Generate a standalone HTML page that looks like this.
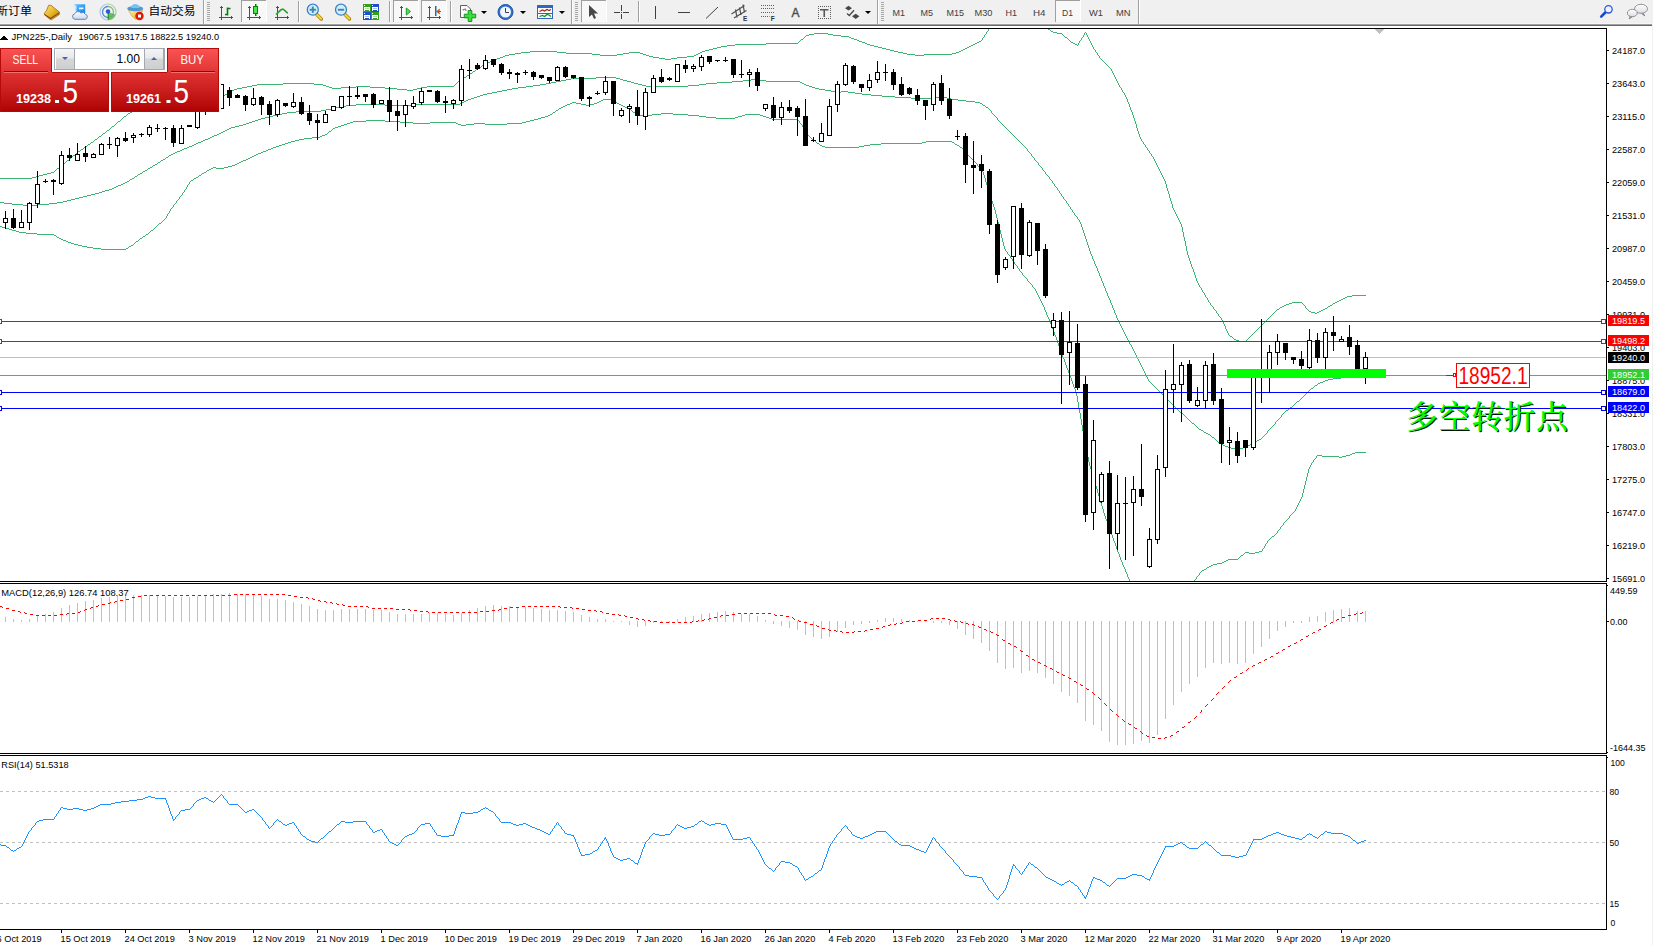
<!DOCTYPE html>
<html><head><meta charset="utf-8"><title>JPN225 Daily</title>
<style>
html,body{margin:0;padding:0;background:#fff;}
body{width:1653px;height:945px;position:relative;overflow:hidden;font-family:"Liberation Sans","Noto Sans CJK SC",sans-serif;}
#tb{position:absolute;left:0;top:0;width:1653px;height:24px;background:#f0f0f0;}
#tb1{position:absolute;left:0;top:24px;width:1653px;height:1px;background:#a0a0a0;}
#tb2{position:absolute;left:0;top:25px;width:1653px;height:1px;background:#696969;}
#redge{position:absolute;left:1652px;top:24px;width:1px;height:921px;background:#f0f0f0;}
#tb0{position:absolute;left:0;top:23px;width:1653px;height:1px;background:#f6f6f6;}
svg#ch{position:absolute;left:0;top:0;}
svg text{font-family:"Liberation Sans","Noto Sans CJK SC",sans-serif;}
#cn{position:absolute;left:1406px;top:397px;font-family:"Liberation Serif","Noto Serif CJK SC",serif;font-weight:500;font-size:32px;line-height:40px;color:#00ff00;text-shadow:1px 1px 0 #001800;white-space:nowrap;letter-spacing:0.5px;}
/* one click trading panel */
#oc{position:absolute;left:0;top:48px;width:220px;height:64px;}
#oc div{position:absolute;box-sizing:border-box;}
.red{background:linear-gradient(#f04848,#b80808);}
</style></head><body>
<div id="tb"></div><div id="tb0"></div><div id="tb1"></div><div id="tb2"></div><div id="redge"></div>
<svg id="ch" width="1653" height="945" viewBox="0 0 1653 945" shape-rendering="crispEdges">
<defs><clipPath id="cm"><rect x="0" y="29" width="1606" height="552"/></clipPath></defs>
<rect x="0" y="28" width="1607" height="1" fill="#000"/>
<rect x="1606" y="28" width="1" height="902" fill="#000"/>
<rect x="0" y="581" width="1607" height="1" fill="#000"/>
<rect x="0" y="583" width="1607" height="1" fill="#000"/>
<rect x="0" y="753" width="1607" height="1" fill="#000"/>
<rect x="0" y="755" width="1607" height="1" fill="#000"/>
<rect x="0" y="929" width="1607" height="1" fill="#000"/>
<rect x="0" y="582" width="1608" height="1" fill="#fff"/>
<rect x="0" y="754" width="1608" height="1" fill="#fff"/>
<path d="M0 178.5h32m0-1h4m0-1h3m0-1h4m0-1h4m0-1h4m0-1h3m0-1h1m0-1h1m0-1h1m0-1h2m0-1h1m0-1h1m0-1h1m0-1h1m0-1h2m0-1h1m0-1h1m0-1h2m0-1h1m0-1h1m0-1h1m0-1h1m0-1h2m0-1h1m0-1h1m0-1h1m0-1h2m0-1h1m0-1h2m0-1h1m0-1h1m0-1h2m0-1h1m0-1h2m0-1h1m0-1h2m0-1h1m0-1h1m0-1h2m0-1h1m0-1h1m0-1h2m0-1h1m0-1h1m0-1h2m0-1h1m0-1h1m0-1h2m0-1h1m0-1h1m0-1h1m0-1h2m0-1h1m0-1h1m0-1h1m0-1h1m0-1h2m0-1h1m0-1h1m0-1h1m0-1h1m0-1h2m0-1h1m0-1h1m0-1h2m0-1h2m0-1h1m0-1h2m0-1h2m0-1h1m0-1h2m0-1h1m0-1h2m0-1h2m0-1h1m0-1h2m0-1h2m0-1h3m0-1h6m0-1h6m0-1h6m0-1h6m0-1h10m0 1h12m0 1h11m0-1h10m0-1h5m0-1h2m0-1h2m0-1h1m0-1h2m0-1h2m0-1h3m0-1h5m0-1h5m0-1h5m0-1h5m0-1h26m0-1h31m0 1h9m0 1h3m0 1h3m0 1h3m0 1h9m0-1h15m0-1h14m0 1h15m0 1h12m0 1h10m0 1h6m0-1h4m0-1h4m0-1h6m0-1h27m0-1h1m0-1h1m0-1h1m0-1h1m0-1h1m0-1h2m0-1h1m0-1h2m0-1h2m0-1h1m0-1h2m0-1h1m0-1h2m0-1h1m0-1h2m0-1h1m0-1h2m0-1h1m0-1h2m0-1h1m0-1h2m0-1h2m0-1h2m0-1h2m0-1h2m0-1h3m0-1h2m0-1h3m0-1h3m0-1h2m0-1h4m0-1h6m0-1h6m0-1h9m0-1h27m0 1h9m0 1h26m0 1h8m0 1h17m0-1h6m0-1h6m0-1h11m0 1h3m0 1h3m0 1h3m0 1h4m0 1h6m0 1h6m0 1h6m0-1h6m0-1h10m0-1h7m0-1h2m0-1h2m0-1h2m0-1h2m0-1h3m0-1h4m0-1h4m0-1h4m0-1h4m0-1h6m0-1h8m0-1h31m0-1h32m0-1h1m0-1h1m0-1h1m0-1h2m0-1h1m0-1h1m0-1h1m0-1h3m0-1h5m0-1h14m0 1h5m0 1h8m0 1h8m0 1h2m0 1h3m0 1h3m0 1h2m0 1h3m0 1h3m0 1h2m0 1h3m0 1h4m0 1h4m0 1h4m0 1h4m0 1h4m0 1h4m0 1h4m0 1h5m0 1h4m0 1h8m0 1h9m0-1h28m0-1h4m0-1h3m0-1h2m0-1h2m0-1h2m0-1h2m0-1h2m0-1h2m0-1h2m0-1h2m0-1h2m0-1h2m0-1h2m0-1h1m.5-2.5v2m.5-2.5h1m.5-2.5v2m.5-2.5h1m.5-2.5v2m.5-2.5h1m.5-2.5v2m59.5-1.5h2m0 1h1m0 1h2m0 1h4m0 1h5m0 1h1m0 1h1m0 1h1m0 1h2m0 1h1m0 1h1m0 1h1m0 1h1m0 1h2m0 1h2m0 1h2m0 1h1m.5-2.5v2m1-4v2m.5-2.5h1m.5-2.5v2m.5-2.5h1m.5-2.5v2m1-4v2m.5-2.5h1m.5 .5v2m1 0v2m1 0v2m1 0v2m1 0v2m1 0v2m1 0v2m1 0v2m.5 .5h1m.5 .5v2m.5 .5h1m.5 .5v2m.5 .5h1m.5 .5v2m.5 .5h1m0 1h1m0 1h1m0 1h1m0 1h1m0 1h1m0 1h1m0 1h1m0 1h1m0 1h1m0 1h1m.5 .5v2m1 0v2m1 0v2m1 0v2m1 0v2m1 0v2m1 0v2m1 0v2m1 0v2m.5 .5h1m.5 .5v2m1 0v2m.5 .5h1m.5 .5v2m1 0v2m1 0v2m1 0v3m1 0v2m1 0v3m1 0v3m1 0v2m1 0v3m1 0v3m1 0v3m1 0v3m1 0v4m1 0v3m1 0v3m1 0v3m1 0v2m1 0v2m.5 .5h1m.5 .5v2m.5 .5h1m.5 .5v2m.5 .5h1m.5 .5v2m.5 .5h1m.5 .5v2m.5 .5h1m.5 .5v2m.5 .5h1m.5 .5v2m1 0v2m1 0v2m1 0v2m1 0v2m1 0v2m1 0v2m1 0v2m1 0v2m1 0v2m1 0v2m1 0v2m1 0v3m1 0v4m1 0v3m1 0v3m1 0v4m1 0v3m1 0v3m1 0v4m1 0v2m1 0v2m1 0v2m1 0v2m1 0v2m1 0v2m1 0v2m1 0v2m1 0v3m1 0v5m1 0v5m1 0v4m1 0v5m1 0v5m1 0v4m1 0v3m1 0v3m1 0v3m1 0v3m1 0v2m1 0v3m1 0v3m1 0v3m1 0v3m1 0v2m1 0v2m1 0v2m.5 .5h1m.5 .5v2m1 0v2m.5 .5h1m.5 .5v2m1 0v2m.5 .5h1m.5 .5v2m1 0v2m.5 .5h1m.5 .5v2m.5 .5h1m0 1h1m.5 .5v2m.5 .5h1m0 1h1m.5 .5v2m.5 .5h1m.5 .5v2m.5 .5h1m0 1h1m.5 .5v2m1 0v2m1 0v2m1 0v2m1 0v3m1 0v2m1 0v2m1 0v2m.5 .5h1m0 1h2m0 1h1m0 1h1m0 1h2m0 1h3m0 1h7m0-1h1m0-1h1m0-1h1m0-1h1m0-1h1m0-1h1m0-1h1m0-1h1m0-1h1m0-1h1m0-1h1m0-1h1m0-1h1m0-1h1m0-1h1m0-1h1m0-1h1m0-1h1m0-1h1m0-1h1m0-1h1m0-1h1m0-1h1m0-1h1m0-1h1m0-1h1m0-1h1m0-1h1m0-1h1m0-1h1m0-1h1m0-1h2m0-1h1m0-1h2m0-1h2m0-1h2m0-1h3m0-1h3m0-1h10m0 1h1m0 1h1m0 1h1m.5 .5v2m.5 .5h1m0 1h1m0 1h1m0 1h2m0 1h4m0 1h2m0-1h2m0-1h2m0-1h2m0-1h2m0-1h2m0-1h1m0-1h2m0-1h2m0-1h1m0-1h2m0-1h2m0-1h2m0-1h2m0-1h2m0-1h2m0-1h2m0-1h5m0-1h14" fill="none" stroke="#3cb371" stroke-width="1"/>
<path d="M0 202.5h4m0 1h8m0 1h11m0 1h14m0-1h12m0-1h8m0-1h6m0-1h4m0-1h4m0-1h4m0-1h4m0-1h4m0-1h4m0-1h4m0-1h4m0-1h4m0-1h3m0-1h3m0-1h4m0-1h3m0-1h2m0-1h2m0-1h2m0-1h3m0-1h2m0-1h2m0-1h2m0-1h2m0-1h1m0-1h2m0-1h2m0-1h1m0-1h2m0-1h1m0-1h2m0-1h2m0-1h1m0-1h2m0-1h2m0-1h1m0-1h2m0-1h2m0-1h1m0-1h2m0-1h2m0-1h1m0-1h2m0-1h1m0-1h2m0-1h2m0-1h1m0-1h2m0-1h1m0-1h2m0-1h2m0-1h2m0-1h2m0-1h3m0-1h2m0-1h2m0-1h3m0-1h2m0-1h3m0-1h2m0-1h2m0-1h2m0-1h3m0-1h2m0-1h2m0-1h3m0-1h2m0-1h2m0-1h2m0-1h3m0-1h2m0-1h2m0-1h2m0-1h2m0-1h2m0-1h2m0-1h2m0-1h4m0-1h4m0-1h4m0-1h3m0-1h3m0-1h3m0-1h3m0-1h3m0-1h3m0-1h4m0-1h4m0-1h4m0-1h4m0-1h5m0-1h5m0-1h9m0-1h25m0-1h5m0-1h5m0-1h5m0-1h5m0-1h5m0-1h10m0-1h29m0 1h30m0-1h45m0-1h2m0-1h2m0-1h2m0-1h2m0-1h3m0-1h3m0-1h3m0-1h3m0-1h3m0-1h4m0-1h5m0-1h5m0-1h5m0-1h5m0-1h5m0-1h6m0-1h8m0-1h7m0-1h7m0-1h6m0-1h5m0-1h5m0-1h5m0-1h5m0-1h5m0-1h25m0-1h20m0 1h4m0 1h3m0 1h4m0 1h4m0 1h3m0 1h4m0 1h4m0 1h4m0 1h42m0-1h11m0-1h7m0-1h11m0-1h15m0-1h11m0-1h8m0-1h7m0 1h8m0 1h34m0 1h2m0 1h2m0 1h2m0 1h3m0 1h3m0 1h3m0 1h4m0 1h6m0 1h6m0 1h4m0 1h6m0-1h7m0 1h7m0 1h7m0 1h9m0 1h11m0 1h13m0 1h16m0 1h21m0-1h15m0 1h4m0 1h7m0 1h8m0 1h9m0 1h5m0 1h2m0 1h1m0 1h2m0 1h1m0 1h2m0 1h1m0 1h1m0 1h1m.5 .5v2m.5 .5h1m0 1h1m0 1h1m0 1h1m0 1h1m.5 .5v2m.5 .5h1m0 1h1m0 1h1m0 1h1m0 1h1m0 1h1m0 1h1m0 1h1m0 1h1m0 1h1m0 1h1m0 1h1m0 1h1m0 1h1m0 1h1m0 1h1m0 1h1m0 1h1m0 1h1m0 1h1m0 1h1m0 1h1m0 1h1m0 1h1m0 1h1m0 1h1m0 1h1m0 1h1m0 1h1m.5 .5v2m.5 .5h1m0 1h1m0 1h1m.5 .5v2m.5 .5h1m0 1h1m.5 .5v2m.5 .5h1m0 1h1m0 1h1m.5 .5v2m.5 .5h1m0 1h1m0 1h1m.5 .5v2m.5 .5h1m0 1h1m.5 .5v2m.5 .5h1m0 1h1m0 1h1m.5 .5v2m.5 .5h1m0 1h1m.5 .5v2m.5 .5h1m.5 .5v2m.5 .5h1m0 1h1m.5 .5v2m.5 .5h1m.5 .5v2m.5 .5h1m.5 .5v2m.5 .5h1m.5 .5v2m.5 .5h1m0 1h1m.5 .5v2m.5 .5h1m.5 .5v2m.5 .5h1m.5 .5v2m.5 .5h1m.5 .5v2m.5 .5h1m.5 .5v2m.5 .5h1m0 1h1m.5 .5v2m.5 .5h1m.5 .5v2m1 0v2m1 0v3m1 0v3m1 0v3m1 0v3m1 0v3m1 0v3m1 0v3m1 0v3m1 0v3m1 0v3m1 0v2m1 0v3m1 0v2m1 0v3m1 0v2m1 0v2m1 0v3m1 0v2m1 0v3m1 0v2m1 0v3m1 0v2m1 0v3m1 0v2m1 0v3m1 0v2m1 0v3m1 0v2m1 0v2m1 0v3m1 0v2m1 0v3m1 0v2m1 0v3m1 0v2m1 0v3m1 0v2m1 0v2m1 0v2m1 0v2m1 0v2m1 0v2m1 0v2m1 0v2m1 0v2m1 0v2m1 0v2m1 0v2m1 0v2m.5 .5h1m.5 .5v2m1 0v2m1 0v2m1 0v2m1 0v2m1 0v2m1 0v2m1 0v2m1 0v2m1 0v2m1 0v2m1 0v2m1 0v2m1 0v2m1 0v2m1 0v2m1 0v2m1 0v2m.5 .5h1m0 1h1m0 1h1m0 1h1m0 1h1m0 1h1m0 1h1m0 1h1m0 1h1m0 1h1m0 1h1m0 1h1m0 1h1m0 1h1m0 1h1m0 1h1m0 1h1m0 1h1m0 1h1m0 1h1m0 1h1m0 1h1m0 1h1m0 1h1m0 1h1m0 1h1m0 1h1m0 1h1m0 1h1m0 1h1m0 1h1m0 1h1m0 1h2m0 1h1m0 1h1m0 1h1m0 1h1m0 1h1m0 1h1m0 1h1m0 1h1m0 1h1m0 1h2m0 1h1m0 1h1m0 1h1m0 1h1m0 1h1m0 1h2m0 1h2m0 1h1m0 1h2m0 1h2m0 1h2m0 1h1m0 1h1m0 1h2m0 1h1m0 1h1m0 1h1m0 1h1m0 1h2m0 1h1m0 1h2m0 1h2m0 1h3m0 1h3m0 1h4m0 1h4m0-1h4m0-1h3m0-1h2m0-1h2m0-1h2m0-1h1m0-1h2m0-1h2m0-1h2m0-1h2m0-1h1m0-1h1m0-1h1m0-1h1m0-1h1m0-1h1m.5-2.5v2m.5-2.5h1m0-1h1m0-1h1m0-1h1m0-1h1m0-1h1m0-1h1m.5-2.5v2m.5-2.5h1m0-1h1m0-1h1m0-1h1m0-1h1m.5-2.5v2m.5-2.5h1m0-1h1m0-1h1m0-1h1m0-1h2m0-1h1m0-1h1m0-1h2m0-1h1m0-1h1m0-1h1m0-1h1m0-1h1m0-1h2m0-1h1m0-1h1m0-1h1m0-1h1m0-1h1m0-1h1m0-1h1m0-1h1m0-1h1m0-1h1m0-1h1m0-1h1m0-1h2m0-1h1m0-1h1m0-1h2m0-1h1m0-1h2m0-1h3m0-1h2m0-1h3m0-1h5m0-1h8m0-1h7m0-1h7m0-1h7m0-1h4" fill="none" stroke="#3cb371" stroke-width="1"/>
<path d="M0 226.5h2m0 1h4m0 1h3m0 1h3m0 1h4m0 1h3m0 1h7m0 1h11m0 1h17m0 1h2m0 1h1m0 1h2m0 1h2m0 1h2m0 1h3m0 1h2m0 1h3m0 1h3m0 1h4m0 1h4m0 1h5m0 1h6m0 1h8m0 1h25m0-1h2m0-1h1m0-1h2m0-1h2m0-1h1m0-1h1m0-1h1m0-1h2m0-1h1m0-1h1m0-1h2m0-1h1m0-1h2m0-1h1m0-1h2m0-1h1m0-1h1m0-1h1m0-1h2m0-1h1m0-1h1m0-1h1m0-1h1m0-1h1m0-1h1m0-1h2m0-1h1m0-1h1m0-1h1m0-1h1m0-1h1m.5-2.5v2m1-4v2m.5-2.5h1m.5-2.5v2m1-4v2m.5-2.5h1m0-1h1m.5-2.5v2m.5-2.5h1m0-1h1m.5-2.5v2m.5-2.5h1m0-1h1m.5-2.5v2m.5-2.5h1m0-1h1m.5-2.5v2m.5-2.5h1m.5-2.5v2m.5-2.5h1m.5-2.5v2m1-4v2m.5-2.5h1m.5-2.5v2m.5-2.5h1m0-1h2m0-1h1m0-1h2m0-1h2m0-1h1m0-1h2m0-1h1m0-1h2m0-1h2m0-1h1m0-1h2m0-1h2m0-1h2m0-1h3m0 1h8m0-1h4m0-1h4m0-1h3m0-1h2m0-1h2m0-1h2m0-1h2m0-1h3m0-1h2m0-1h2m0-1h2m0-1h2m0-1h2m0-1h2m0-1h3m0-1h2m0-1h3m0-1h2m0-1h3m0-1h2m0-1h3m0-1h3m0-1h3m0-1h3m0-1h3m0-1h3m0-1h4m0-1h4m0-1h5m0-1h8m0-1h8m0-1h2m0-1h3m0-1h2m0-1h1m0-1h1m0-1h2m0-1h1m0-1h1m0-1h2m0-1h3m0-1h3m0-1h3m0-1h3m0-1h3m0-1h3m0-1h13m0-1h19m0 1h15m0 1h13m0 1h17m0-1h26m0 1h2m0 1h3m0 1h5m0-1h8m0-1h11m0 1h22m0-1h15m0-1h4m0-1h4m0-1h4m0-1h4m0-1h3m0-1h4m0-1h3m0-1h2m0-1h2m0-1h1m0-1h2m0-1h1m0-1h2m0-1h1m0-1h2m0-1h2m0-1h2m0-1h2m0-1h3m0-1h2m0-1h4m0 1h5m0 1h5m0 1h4m0-1h4m0-1h3m0-1h2m0-1h2m0-1h2m0-1h8m0 1h2m0 1h2m0 1h2m0 1h2m0 1h2m0 1h2m0 1h2m0 1h3m0 1h2m0 1h1m0 1h1m0 1h1m0 1h2m0 1h1m0 1h1m0 1h15m0-1h9m0-1h12m0 1h15m0 1h11m0 1h7m0 1h10m0 1h19m0-1h3m0-1h4m0-1h3m0-1h15m0 1h3m0 1h3m0 1h3m0 1h3m0 1h26m0 1h1m.5 .5v2m.5 .5h1m0 1h1m.5 .5v2m.5 .5h1m.5 .5v2m.5 .5h1m.5 .5v2m1 0v2m.5 .5h1m0 1h1m0 1h1m0 1h1m0 1h2m0 1h1m0 1h1m0 1h1m0 1h2m0 1h1m0 1h2m0 1h3m0 1h34m0-1h5m0-1h6m0-1h11m0-1h41m0-1h4m0-1h26m0 1h2m0 1h1m0 1h2m0 1h2m0 1h1m0 1h2m0 1h1m0 1h1m0 1h1m0 1h1m0 1h1m.5 .5v2m.5 .5h1m0 1h1m0 1h1m0 1h1m0 1h1m0 1h1m0 1h1m0 1h1m0 1h1m.5 .5v2m.5 .5h1m0 1h1m0 1h1m0 1h1m.5 .5v2m1 0v3m1 0v3m1 0v4m1 0v3m1 0v3m1 0v3m1 0v3m1 0v3m1 0v4m1 0v3m1 0v3m1 0v3m1 0v4m1 0v4m1 0v4m1 0v4m1 0v4m1 0v4m1 0v4m1 0v4m1 0v4m1 0v3m1 0v2m.5 .5h1m.5 .5v2m.5 .5h1m0 1h1m.5 .5v2m.5 .5h1m.5 .5v2m.5 .5h1m.5 .5v2m.5 .5h1m0 1h1m.5 .5v2m.5 .5h1m.5 .5v2m.5 .5h1m0 1h1m.5 .5v2m.5 .5h1m0 1h1m0 1h1m0 1h1m.5 .5v2m.5 .5h1m0 1h1m0 1h1m0 1h1m.5 .5v2m.5 .5h1m0 1h1m.5 .5v2m1 0v2m1 0v2m1 0v2m1 0v2m1 0v2m1 0v2m1 0v2m1 0v2m1 0v3m1 0v2m1 0v3m1 0v2m1 0v2m1 0v3m1 0v2m1 0v3m1 0v2m1 0v3m1 0v3m1 0v2m1 0v3m1 0v3m1 0v3m1 0v2m1 0v3m1 0v3m1 0v3m1 0v2m1 0v3m1 0v3m1 0v3m1 0v2m1 0v3m1 0v3m1 0v2m1 0v3m1 0v3m1 0v3m1 0v2m1 0v3m1 0v4m1 0v6m1 0v6m1 0v5m1 0v6m1 0v6m1 0v6m1 0v5m1 0v5m1 0v5m1 0v6m1 0v5m1 0v5m1 0v4m1 0v3m1 0v4m1 0v3m1 0v3m1 0v4m1 0v3m1 0v3m1 0v4m1 0v3m1 0v3m1 0v4m1 0v3m1 0v3m1 0v4m1 0v3m1 0v3m1 0v2m1 0v3m1 0v3m1 0v3m1 0v2m1 0v3m1 0v3m1 0v3m1 0v2m1 0v3m1 0v3m1 0v3m1 0v2m1 0v3m1 0v3m1 0v2m1 0v3m1 0v2m1 0v2m1 0v3m1 0v2m1 0v3m1 0v2m1 0v2m64.5-.5h1m0-1h1m.5-2.5v2m.5-2.5h1m0-1h1m.5-2.5v2m.5-2.5h1m0-1h1m0-1h2m0-1h2m0-1h1m0-1h2m0-1h2m0-1h2m0-1h4m0-1h5m0-1h2m0-1h2m0-1h2m0-1h10m0-1h1m0-1h1m0-1h1m0-1h2m0-1h1m0-1h1m0-1h4m0 1h6m0-1h4m0-1h3m.5-2.5v2m.5-2.5h1m.5-2.5v2m1-4v2m.5-2.5h1m.5-2.5v2m.5-2.5h1m0-1h1m0-1h1m0-1h1m0-1h2m0-1h1m0-1h1m0-1h1m.5-2.5v2m.5-2.5h1m0-1h1m.5-2.5v2m.5-2.5h1m0-1h1m.5-2.5v2m.5-2.5h1m0-1h1m0-1h1m0-1h1m0-1h1m.5-2.5v2m.5-2.5h1m0-1h1m0-1h1m0-1h1m0-1h1m.5-2.5v2m1-4v2m1-4v2m1-4v2m1-4v2m1-4v2m1-4v2m1-6v4m1-8v4m1-8v4m1-8v4m1-8v4m1-8v4m1-8v4m1-6v2m1-4v2m1-4v2m.5-2.5h1m.5-2.5v2m.5-2.5h1m0-1h1m.5-2.5v2m.5-2.5h5m0 1h17m0 1h3m0-1h4m0-1h4m0-1h2m0-1h3m0-1h11" fill="none" stroke="#3cb371" stroke-width="1"/>
<rect x="0" y="357" width="1606" height="1" fill="#c0c0c0"/>
<rect x="0" y="321" width="1606" height="1" fill="#ff0000"/>
<rect x="0" y="341" width="1606" height="1" fill="#ff0000"/>
<rect x="0" y="375" width="1606" height="1" fill="#32cd32"/>
<rect x="0" y="392" width="1606" height="1" fill="#0000ff"/>
<rect x="0" y="408" width="1606" height="1" fill="#0000ff"/>
<rect x="5" y="211" width="1" height="18" fill="#000"/>
<rect x="3" y="218" width="5" height="5" fill="#000"/>
<rect x="4" y="219" width="3" height="3" fill="#fff"/>
<rect x="13" y="209" width="1" height="20" fill="#000"/>
<rect x="11" y="218" width="5" height="10" fill="#000"/>
<rect x="21" y="210" width="1" height="18" fill="#000"/>
<rect x="19" y="222" width="5" height="6" fill="#000"/>
<rect x="20" y="223" width="3" height="4" fill="#fff"/>
<rect x="29" y="202" width="1" height="28" fill="#000"/>
<rect x="27" y="203" width="5" height="20" fill="#000"/>
<rect x="28" y="204" width="3" height="18" fill="#fff"/>
<rect x="37" y="171" width="1" height="37" fill="#000"/>
<rect x="35" y="184" width="5" height="20" fill="#000"/>
<rect x="36" y="185" width="3" height="18" fill="#fff"/>
<rect x="45" y="179" width="1" height="4" fill="#000"/>
<rect x="43" y="181" width="5" height="1" fill="#000"/>
<rect x="53" y="179" width="1" height="16" fill="#000"/>
<rect x="51" y="180" width="5" height="2" fill="#000"/>
<rect x="61" y="151" width="1" height="34" fill="#000"/>
<rect x="59" y="155" width="5" height="29" fill="#000"/>
<rect x="60" y="156" width="3" height="27" fill="#fff"/>
<rect x="69" y="148" width="1" height="13" fill="#000"/>
<rect x="67" y="155" width="5" height="3" fill="#000"/>
<rect x="77" y="143" width="1" height="18" fill="#000"/>
<rect x="75" y="154" width="5" height="7" fill="#000"/>
<rect x="76" y="155" width="3" height="5" fill="#fff"/>
<rect x="85" y="146" width="1" height="16" fill="#000"/>
<rect x="83" y="153" width="5" height="4" fill="#000"/>
<rect x="93" y="153" width="1" height="5" fill="#000"/>
<rect x="91" y="154" width="5" height="4" fill="#000"/>
<rect x="92" y="155" width="3" height="2" fill="#fff"/>
<rect x="101" y="143" width="1" height="12" fill="#000"/>
<rect x="99" y="144" width="5" height="11" fill="#000"/>
<rect x="100" y="145" width="3" height="9" fill="#fff"/>
<rect x="109" y="137" width="1" height="12" fill="#000"/>
<rect x="107" y="144" width="5" height="1" fill="#000"/>
<rect x="117" y="137" width="1" height="20" fill="#000"/>
<rect x="115" y="138" width="5" height="8" fill="#000"/>
<rect x="116" y="139" width="3" height="6" fill="#fff"/>
<rect x="125" y="132" width="1" height="10" fill="#000"/>
<rect x="123" y="138" width="5" height="3" fill="#000"/>
<rect x="133" y="133" width="1" height="10" fill="#000"/>
<rect x="131" y="135" width="5" height="3" fill="#000"/>
<rect x="132" y="136" width="3" height="1" fill="#fff"/>
<rect x="141" y="133" width="1" height="4" fill="#000"/>
<rect x="139" y="134" width="5" height="1" fill="#000"/>
<rect x="149" y="125" width="1" height="12" fill="#000"/>
<rect x="147" y="127" width="5" height="8" fill="#000"/>
<rect x="148" y="128" width="3" height="6" fill="#fff"/>
<rect x="157" y="124" width="1" height="8" fill="#000"/>
<rect x="155" y="128" width="5" height="1" fill="#000"/>
<rect x="165" y="127" width="1" height="13" fill="#000"/>
<rect x="163" y="128" width="5" height="1" fill="#000"/>
<rect x="173" y="125" width="1" height="22" fill="#000"/>
<rect x="171" y="128" width="5" height="15" fill="#000"/>
<rect x="181" y="125" width="1" height="19" fill="#000"/>
<rect x="179" y="128" width="5" height="16" fill="#000"/>
<rect x="180" y="129" width="3" height="14" fill="#fff"/>
<rect x="189" y="125" width="1" height="2" fill="#000"/>
<rect x="187" y="125" width="5" height="2" fill="#000"/>
<rect x="197" y="100" width="1" height="29" fill="#000"/>
<rect x="195" y="102" width="5" height="26" fill="#000"/>
<rect x="196" y="103" width="3" height="24" fill="#fff"/>
<rect x="205" y="95" width="1" height="20" fill="#000"/>
<rect x="203" y="98" width="5" height="7" fill="#000"/>
<rect x="213" y="92" width="1" height="17" fill="#000"/>
<rect x="211" y="96" width="5" height="9" fill="#000"/>
<rect x="212" y="97" width="3" height="7" fill="#fff"/>
<rect x="221" y="84" width="1" height="25" fill="#000"/>
<rect x="219" y="84" width="5" height="25" fill="#000"/>
<rect x="220" y="85" width="3" height="23" fill="#fff"/>
<rect x="229" y="87" width="1" height="19" fill="#000"/>
<rect x="227" y="90" width="5" height="8" fill="#000"/>
<rect x="237" y="94" width="1" height="4" fill="#000"/>
<rect x="235" y="95" width="5" height="3" fill="#000"/>
<rect x="245" y="95" width="1" height="16" fill="#000"/>
<rect x="243" y="96" width="5" height="9" fill="#000"/>
<rect x="253" y="88" width="1" height="18" fill="#000"/>
<rect x="251" y="98" width="5" height="7" fill="#000"/>
<rect x="252" y="99" width="3" height="5" fill="#fff"/>
<rect x="261" y="96" width="1" height="19" fill="#000"/>
<rect x="259" y="97" width="5" height="8" fill="#000"/>
<rect x="269" y="101" width="1" height="24" fill="#000"/>
<rect x="267" y="104" width="5" height="11" fill="#000"/>
<rect x="277" y="99" width="1" height="18" fill="#000"/>
<rect x="275" y="100" width="5" height="15" fill="#000"/>
<rect x="276" y="101" width="3" height="13" fill="#fff"/>
<rect x="285" y="103" width="1" height="4" fill="#000"/>
<rect x="283" y="103" width="5" height="3" fill="#000"/>
<rect x="293" y="93" width="1" height="15" fill="#000"/>
<rect x="291" y="102" width="5" height="5" fill="#000"/>
<rect x="292" y="103" width="3" height="3" fill="#fff"/>
<rect x="301" y="97" width="1" height="18" fill="#000"/>
<rect x="299" y="102" width="5" height="12" fill="#000"/>
<rect x="309" y="105" width="1" height="20" fill="#000"/>
<rect x="307" y="113" width="5" height="8" fill="#000"/>
<rect x="317" y="114" width="1" height="26" fill="#000"/>
<rect x="315" y="120" width="5" height="3" fill="#000"/>
<rect x="325" y="111" width="1" height="12" fill="#000"/>
<rect x="323" y="114" width="5" height="9" fill="#000"/>
<rect x="324" y="115" width="3" height="7" fill="#fff"/>
<rect x="333" y="106" width="1" height="5" fill="#000"/>
<rect x="331" y="106" width="5" height="5" fill="#000"/>
<rect x="332" y="107" width="3" height="3" fill="#fff"/>
<rect x="341" y="96" width="1" height="13" fill="#000"/>
<rect x="339" y="96" width="5" height="12" fill="#000"/>
<rect x="340" y="97" width="3" height="10" fill="#fff"/>
<rect x="349" y="86" width="1" height="20" fill="#000"/>
<rect x="347" y="96" width="5" height="1" fill="#000"/>
<rect x="357" y="87" width="1" height="12" fill="#000"/>
<rect x="355" y="95" width="5" height="2" fill="#000"/>
<rect x="365" y="94" width="1" height="8" fill="#000"/>
<rect x="363" y="94" width="5" height="3" fill="#000"/>
<rect x="373" y="93" width="1" height="15" fill="#000"/>
<rect x="371" y="94" width="5" height="11" fill="#000"/>
<rect x="381" y="100" width="1" height="4" fill="#000"/>
<rect x="379" y="100" width="5" height="4" fill="#000"/>
<rect x="380" y="101" width="3" height="2" fill="#fff"/>
<rect x="389" y="87" width="1" height="35" fill="#000"/>
<rect x="387" y="100" width="5" height="12" fill="#000"/>
<rect x="397" y="100" width="1" height="31" fill="#000"/>
<rect x="395" y="111" width="5" height="5" fill="#000"/>
<rect x="405" y="100" width="1" height="27" fill="#000"/>
<rect x="403" y="105" width="5" height="10" fill="#000"/>
<rect x="404" y="106" width="3" height="8" fill="#fff"/>
<rect x="413" y="96" width="1" height="13" fill="#000"/>
<rect x="411" y="103" width="5" height="4" fill="#000"/>
<rect x="412" y="104" width="3" height="2" fill="#fff"/>
<rect x="421" y="88" width="1" height="17" fill="#000"/>
<rect x="419" y="91" width="5" height="12" fill="#000"/>
<rect x="420" y="92" width="3" height="10" fill="#fff"/>
<rect x="429" y="90" width="1" height="2" fill="#000"/>
<rect x="427" y="90" width="5" height="2" fill="#000"/>
<rect x="437" y="90" width="1" height="13" fill="#000"/>
<rect x="435" y="91" width="5" height="11" fill="#000"/>
<rect x="445" y="96" width="1" height="17" fill="#000"/>
<rect x="443" y="101" width="5" height="2" fill="#000"/>
<rect x="453" y="99" width="1" height="10" fill="#000"/>
<rect x="451" y="100" width="5" height="4" fill="#000"/>
<rect x="452" y="101" width="3" height="2" fill="#fff"/>
<rect x="461" y="65" width="1" height="41" fill="#000"/>
<rect x="459" y="69" width="5" height="32" fill="#000"/>
<rect x="460" y="70" width="3" height="30" fill="#fff"/>
<rect x="469" y="59" width="1" height="20" fill="#000"/>
<rect x="467" y="70" width="5" height="1" fill="#000"/>
<rect x="477" y="63" width="1" height="7" fill="#000"/>
<rect x="475" y="65" width="5" height="4" fill="#000"/>
<rect x="485" y="55" width="1" height="15" fill="#000"/>
<rect x="483" y="60" width="5" height="9" fill="#000"/>
<rect x="484" y="61" width="3" height="7" fill="#fff"/>
<rect x="493" y="59" width="1" height="8" fill="#000"/>
<rect x="491" y="59" width="5" height="6" fill="#000"/>
<rect x="501" y="63" width="1" height="12" fill="#000"/>
<rect x="499" y="64" width="5" height="9" fill="#000"/>
<rect x="509" y="69" width="1" height="10" fill="#000"/>
<rect x="507" y="72" width="5" height="2" fill="#000"/>
<rect x="517" y="72" width="1" height="11" fill="#000"/>
<rect x="515" y="73" width="5" height="2" fill="#000"/>
<rect x="525" y="70" width="1" height="5" fill="#000"/>
<rect x="523" y="72" width="5" height="1" fill="#000"/>
<rect x="533" y="71" width="1" height="9" fill="#000"/>
<rect x="531" y="72" width="5" height="5" fill="#000"/>
<rect x="541" y="75" width="1" height="4" fill="#000"/>
<rect x="539" y="75" width="5" height="3" fill="#000"/>
<rect x="549" y="77" width="1" height="6" fill="#000"/>
<rect x="547" y="77" width="5" height="4" fill="#000"/>
<rect x="557" y="66" width="1" height="15" fill="#000"/>
<rect x="555" y="67" width="5" height="14" fill="#000"/>
<rect x="556" y="68" width="3" height="12" fill="#fff"/>
<rect x="565" y="66" width="1" height="12" fill="#000"/>
<rect x="563" y="67" width="5" height="10" fill="#000"/>
<rect x="573" y="75" width="1" height="4" fill="#000"/>
<rect x="571" y="75" width="5" height="3" fill="#000"/>
<rect x="581" y="77" width="1" height="24" fill="#000"/>
<rect x="579" y="77" width="5" height="22" fill="#000"/>
<rect x="589" y="96" width="1" height="11" fill="#000"/>
<rect x="587" y="97" width="5" height="2" fill="#000"/>
<rect x="597" y="91" width="1" height="4" fill="#000"/>
<rect x="595" y="93" width="5" height="1" fill="#000"/>
<rect x="605" y="76" width="1" height="19" fill="#000"/>
<rect x="603" y="81" width="5" height="12" fill="#000"/>
<rect x="604" y="82" width="3" height="10" fill="#fff"/>
<rect x="613" y="81" width="1" height="35" fill="#000"/>
<rect x="611" y="81" width="5" height="23" fill="#000"/>
<rect x="621" y="108" width="1" height="9" fill="#000"/>
<rect x="619" y="110" width="5" height="6" fill="#000"/>
<rect x="620" y="111" width="3" height="4" fill="#fff"/>
<rect x="629" y="104" width="1" height="19" fill="#000"/>
<rect x="627" y="106" width="5" height="3" fill="#000"/>
<rect x="628" y="107" width="3" height="1" fill="#fff"/>
<rect x="637" y="90" width="1" height="35" fill="#000"/>
<rect x="635" y="107" width="5" height="9" fill="#000"/>
<rect x="645" y="88" width="1" height="42" fill="#000"/>
<rect x="643" y="92" width="5" height="25" fill="#000"/>
<rect x="644" y="93" width="3" height="23" fill="#fff"/>
<rect x="653" y="75" width="1" height="18" fill="#000"/>
<rect x="651" y="78" width="5" height="15" fill="#000"/>
<rect x="652" y="79" width="3" height="13" fill="#fff"/>
<rect x="661" y="69" width="1" height="14" fill="#000"/>
<rect x="659" y="77" width="5" height="5" fill="#000"/>
<rect x="669" y="77" width="1" height="4" fill="#000"/>
<rect x="667" y="78" width="5" height="2" fill="#000"/>
<rect x="677" y="64" width="1" height="18" fill="#000"/>
<rect x="675" y="64" width="5" height="18" fill="#000"/>
<rect x="676" y="65" width="3" height="16" fill="#fff"/>
<rect x="685" y="60" width="1" height="13" fill="#000"/>
<rect x="683" y="65" width="5" height="4" fill="#000"/>
<rect x="693" y="64" width="1" height="8" fill="#000"/>
<rect x="691" y="66" width="5" height="3" fill="#000"/>
<rect x="692" y="67" width="3" height="1" fill="#fff"/>
<rect x="701" y="55" width="1" height="16" fill="#000"/>
<rect x="699" y="57" width="5" height="10" fill="#000"/>
<rect x="700" y="58" width="3" height="8" fill="#fff"/>
<rect x="709" y="56" width="1" height="8" fill="#000"/>
<rect x="707" y="56" width="5" height="6" fill="#000"/>
<rect x="717" y="60" width="1" height="2" fill="#000"/>
<rect x="715" y="60" width="5" height="1" fill="#000"/>
<rect x="725" y="57" width="1" height="5" fill="#000"/>
<rect x="723" y="60" width="5" height="1" fill="#000"/>
<rect x="733" y="59" width="1" height="19" fill="#000"/>
<rect x="731" y="59" width="5" height="16" fill="#000"/>
<rect x="741" y="60" width="1" height="18" fill="#000"/>
<rect x="739" y="74" width="5" height="1" fill="#000"/>
<rect x="749" y="69" width="1" height="18" fill="#000"/>
<rect x="747" y="72" width="5" height="3" fill="#000"/>
<rect x="748" y="73" width="3" height="1" fill="#fff"/>
<rect x="757" y="68" width="1" height="23" fill="#000"/>
<rect x="755" y="72" width="5" height="14" fill="#000"/>
<rect x="765" y="104" width="1" height="7" fill="#000"/>
<rect x="763" y="104" width="5" height="5" fill="#000"/>
<rect x="764" y="105" width="3" height="3" fill="#fff"/>
<rect x="773" y="97" width="1" height="24" fill="#000"/>
<rect x="771" y="105" width="5" height="13" fill="#000"/>
<rect x="781" y="102" width="1" height="23" fill="#000"/>
<rect x="779" y="107" width="5" height="11" fill="#000"/>
<rect x="780" y="108" width="3" height="9" fill="#fff"/>
<rect x="789" y="100" width="1" height="13" fill="#000"/>
<rect x="787" y="107" width="5" height="4" fill="#000"/>
<rect x="797" y="106" width="1" height="30" fill="#000"/>
<rect x="795" y="108" width="5" height="9" fill="#000"/>
<rect x="805" y="99" width="1" height="47" fill="#000"/>
<rect x="803" y="116" width="5" height="30" fill="#000"/>
<rect x="813" y="137" width="1" height="5" fill="#000"/>
<rect x="811" y="140" width="5" height="1" fill="#000"/>
<rect x="821" y="123" width="1" height="19" fill="#000"/>
<rect x="819" y="133" width="5" height="9" fill="#000"/>
<rect x="820" y="134" width="3" height="7" fill="#fff"/>
<rect x="829" y="99" width="1" height="37" fill="#000"/>
<rect x="827" y="106" width="5" height="30" fill="#000"/>
<rect x="828" y="107" width="3" height="28" fill="#fff"/>
<rect x="837" y="81" width="1" height="31" fill="#000"/>
<rect x="835" y="84" width="5" height="21" fill="#000"/>
<rect x="836" y="85" width="3" height="19" fill="#fff"/>
<rect x="845" y="63" width="1" height="23" fill="#000"/>
<rect x="843" y="65" width="5" height="20" fill="#000"/>
<rect x="844" y="66" width="3" height="18" fill="#fff"/>
<rect x="853" y="65" width="1" height="19" fill="#000"/>
<rect x="851" y="66" width="5" height="16" fill="#000"/>
<rect x="861" y="84" width="1" height="8" fill="#000"/>
<rect x="859" y="84" width="5" height="4" fill="#000"/>
<rect x="869" y="74" width="1" height="17" fill="#000"/>
<rect x="867" y="80" width="5" height="8" fill="#000"/>
<rect x="868" y="81" width="3" height="6" fill="#fff"/>
<rect x="877" y="61" width="1" height="22" fill="#000"/>
<rect x="875" y="72" width="5" height="8" fill="#000"/>
<rect x="876" y="73" width="3" height="6" fill="#fff"/>
<rect x="885" y="64" width="1" height="17" fill="#000"/>
<rect x="883" y="72" width="5" height="1" fill="#000"/>
<rect x="893" y="69" width="1" height="21" fill="#000"/>
<rect x="891" y="72" width="5" height="13" fill="#000"/>
<rect x="901" y="77" width="1" height="19" fill="#000"/>
<rect x="899" y="84" width="5" height="11" fill="#000"/>
<rect x="909" y="87" width="1" height="8" fill="#000"/>
<rect x="907" y="88" width="5" height="6" fill="#000"/>
<rect x="917" y="89" width="1" height="16" fill="#000"/>
<rect x="915" y="95" width="5" height="6" fill="#000"/>
<rect x="925" y="100" width="1" height="20" fill="#000"/>
<rect x="923" y="100" width="5" height="6" fill="#000"/>
<rect x="933" y="82" width="1" height="29" fill="#000"/>
<rect x="931" y="84" width="5" height="21" fill="#000"/>
<rect x="932" y="85" width="3" height="19" fill="#fff"/>
<rect x="941" y="75" width="1" height="30" fill="#000"/>
<rect x="939" y="83" width="5" height="18" fill="#000"/>
<rect x="949" y="88" width="1" height="31" fill="#000"/>
<rect x="947" y="99" width="5" height="17" fill="#000"/>
<rect x="957" y="130" width="1" height="10" fill="#000"/>
<rect x="955" y="136" width="5" height="1" fill="#000"/>
<rect x="965" y="133" width="1" height="50" fill="#000"/>
<rect x="963" y="136" width="5" height="29" fill="#000"/>
<rect x="973" y="141" width="1" height="53" fill="#000"/>
<rect x="971" y="165" width="5" height="3" fill="#000"/>
<rect x="981" y="155" width="1" height="33" fill="#000"/>
<rect x="979" y="164" width="5" height="7" fill="#000"/>
<rect x="989" y="169" width="1" height="65" fill="#000"/>
<rect x="987" y="171" width="5" height="54" fill="#000"/>
<rect x="997" y="220" width="1" height="63" fill="#000"/>
<rect x="995" y="224" width="5" height="51" fill="#000"/>
<rect x="1005" y="257" width="1" height="13" fill="#000"/>
<rect x="1003" y="259" width="5" height="9" fill="#000"/>
<rect x="1004" y="260" width="3" height="7" fill="#fff"/>
<rect x="1013" y="206" width="1" height="63" fill="#000"/>
<rect x="1011" y="206" width="5" height="51" fill="#000"/>
<rect x="1012" y="207" width="3" height="49" fill="#fff"/>
<rect x="1021" y="203" width="1" height="66" fill="#000"/>
<rect x="1019" y="208" width="5" height="47" fill="#000"/>
<rect x="1029" y="220" width="1" height="37" fill="#000"/>
<rect x="1027" y="222" width="5" height="34" fill="#000"/>
<rect x="1028" y="223" width="3" height="32" fill="#fff"/>
<rect x="1037" y="223" width="1" height="42" fill="#000"/>
<rect x="1035" y="223" width="5" height="28" fill="#000"/>
<rect x="1045" y="244" width="1" height="54" fill="#000"/>
<rect x="1043" y="249" width="5" height="47" fill="#000"/>
<rect x="1053" y="313" width="1" height="23" fill="#000"/>
<rect x="1051" y="320" width="5" height="8" fill="#000"/>
<rect x="1052" y="321" width="3" height="6" fill="#fff"/>
<rect x="1061" y="312" width="1" height="92" fill="#000"/>
<rect x="1059" y="320" width="5" height="35" fill="#000"/>
<rect x="1069" y="311" width="1" height="74" fill="#000"/>
<rect x="1067" y="342" width="5" height="11" fill="#000"/>
<rect x="1068" y="343" width="3" height="9" fill="#fff"/>
<rect x="1077" y="324" width="1" height="66" fill="#000"/>
<rect x="1075" y="343" width="5" height="45" fill="#000"/>
<rect x="1085" y="376" width="1" height="146" fill="#000"/>
<rect x="1083" y="384" width="5" height="131" fill="#000"/>
<rect x="1093" y="420" width="1" height="110" fill="#000"/>
<rect x="1091" y="440" width="5" height="73" fill="#000"/>
<rect x="1092" y="441" width="3" height="71" fill="#fff"/>
<rect x="1101" y="472" width="1" height="31" fill="#000"/>
<rect x="1099" y="474" width="5" height="28" fill="#000"/>
<rect x="1100" y="475" width="3" height="26" fill="#fff"/>
<rect x="1109" y="461" width="1" height="108" fill="#000"/>
<rect x="1107" y="473" width="5" height="61" fill="#000"/>
<rect x="1117" y="475" width="1" height="75" fill="#000"/>
<rect x="1115" y="503" width="5" height="31" fill="#000"/>
<rect x="1116" y="504" width="3" height="29" fill="#fff"/>
<rect x="1125" y="477" width="1" height="83" fill="#000"/>
<rect x="1123" y="503" width="5" height="1" fill="#000"/>
<rect x="1133" y="476" width="1" height="80" fill="#000"/>
<rect x="1131" y="489" width="5" height="14" fill="#000"/>
<rect x="1132" y="490" width="3" height="12" fill="#fff"/>
<rect x="1141" y="444" width="1" height="62" fill="#000"/>
<rect x="1139" y="489" width="5" height="8" fill="#000"/>
<rect x="1149" y="528" width="1" height="40" fill="#000"/>
<rect x="1147" y="539" width="5" height="28" fill="#000"/>
<rect x="1148" y="540" width="3" height="26" fill="#fff"/>
<rect x="1157" y="455" width="1" height="89" fill="#000"/>
<rect x="1155" y="469" width="5" height="71" fill="#000"/>
<rect x="1156" y="470" width="3" height="69" fill="#fff"/>
<rect x="1165" y="370" width="1" height="107" fill="#000"/>
<rect x="1163" y="389" width="5" height="79" fill="#000"/>
<rect x="1164" y="390" width="3" height="77" fill="#fff"/>
<rect x="1173" y="344" width="1" height="69" fill="#000"/>
<rect x="1171" y="384" width="5" height="6" fill="#000"/>
<rect x="1172" y="385" width="3" height="4" fill="#fff"/>
<rect x="1181" y="362" width="1" height="60" fill="#000"/>
<rect x="1179" y="365" width="5" height="20" fill="#000"/>
<rect x="1180" y="366" width="3" height="18" fill="#fff"/>
<rect x="1189" y="360" width="1" height="43" fill="#000"/>
<rect x="1187" y="364" width="5" height="37" fill="#000"/>
<rect x="1197" y="387" width="1" height="20" fill="#000"/>
<rect x="1195" y="400" width="5" height="6" fill="#000"/>
<rect x="1196" y="401" width="3" height="4" fill="#fff"/>
<rect x="1205" y="361" width="1" height="48" fill="#000"/>
<rect x="1203" y="365" width="5" height="36" fill="#000"/>
<rect x="1204" y="366" width="3" height="34" fill="#fff"/>
<rect x="1213" y="353" width="1" height="52" fill="#000"/>
<rect x="1211" y="364" width="5" height="37" fill="#000"/>
<rect x="1221" y="388" width="1" height="75" fill="#000"/>
<rect x="1219" y="399" width="5" height="45" fill="#000"/>
<rect x="1229" y="427" width="1" height="38" fill="#000"/>
<rect x="1227" y="440" width="5" height="3" fill="#000"/>
<rect x="1228" y="441" width="3" height="1" fill="#fff"/>
<rect x="1237" y="432" width="1" height="31" fill="#000"/>
<rect x="1235" y="441" width="5" height="15" fill="#000"/>
<rect x="1245" y="440" width="1" height="17" fill="#000"/>
<rect x="1243" y="440" width="5" height="8" fill="#000"/>
<rect x="1253" y="370" width="1" height="80" fill="#000"/>
<rect x="1251" y="372" width="5" height="76" fill="#000"/>
<rect x="1252" y="373" width="3" height="74" fill="#fff"/>
<rect x="1261" y="319" width="1" height="84" fill="#000"/>
<rect x="1259" y="372" width="5" height="3" fill="#000"/>
<rect x="1260" y="373" width="3" height="1" fill="#fff"/>
<rect x="1269" y="345" width="1" height="48" fill="#000"/>
<rect x="1267" y="352" width="5" height="21" fill="#000"/>
<rect x="1268" y="353" width="3" height="19" fill="#fff"/>
<rect x="1277" y="334" width="1" height="31" fill="#000"/>
<rect x="1275" y="341" width="5" height="12" fill="#000"/>
<rect x="1276" y="342" width="3" height="10" fill="#fff"/>
<rect x="1285" y="343" width="1" height="17" fill="#000"/>
<rect x="1283" y="343" width="5" height="10" fill="#000"/>
<rect x="1293" y="357" width="1" height="7" fill="#000"/>
<rect x="1291" y="357" width="5" height="3" fill="#000"/>
<rect x="1301" y="351" width="1" height="18" fill="#000"/>
<rect x="1299" y="359" width="5" height="7" fill="#000"/>
<rect x="1309" y="329" width="1" height="42" fill="#000"/>
<rect x="1307" y="340" width="5" height="28" fill="#000"/>
<rect x="1308" y="341" width="3" height="26" fill="#fff"/>
<rect x="1317" y="333" width="1" height="30" fill="#000"/>
<rect x="1315" y="340" width="5" height="18" fill="#000"/>
<rect x="1325" y="328" width="1" height="41" fill="#000"/>
<rect x="1323" y="332" width="5" height="26" fill="#000"/>
<rect x="1324" y="333" width="3" height="24" fill="#fff"/>
<rect x="1333" y="316" width="1" height="35" fill="#000"/>
<rect x="1331" y="332" width="5" height="4" fill="#000"/>
<rect x="1341" y="336" width="1" height="6" fill="#000"/>
<rect x="1339" y="339" width="5" height="3" fill="#000"/>
<rect x="1340" y="340" width="3" height="1" fill="#fff"/>
<rect x="1349" y="325" width="1" height="30" fill="#000"/>
<rect x="1347" y="337" width="5" height="10" fill="#000"/>
<rect x="1357" y="340" width="1" height="33" fill="#000"/>
<rect x="1355" y="345" width="5" height="26" fill="#000"/>
<rect x="1365" y="352" width="1" height="32" fill="#000"/>
<rect x="1363" y="357" width="5" height="12" fill="#000"/>
<rect x="1364" y="358" width="3" height="10" fill="#fff"/>
<rect x="1227" y="369" width="159" height="9" fill="#00ff00"/>
<rect x="1601.5" y="319.5" width="4" height="4" fill="#fff" stroke="#ff0000" stroke-width="1"/>
<rect x="-2.5" y="319.5" width="4" height="4" fill="#fff" stroke="#ff0000" stroke-width="1"/>
<rect x="1601.5" y="339.5" width="4" height="4" fill="#fff" stroke="#ff0000" stroke-width="1"/>
<rect x="-2.5" y="339.5" width="4" height="4" fill="#fff" stroke="#ff0000" stroke-width="1"/>
<rect x="1601.5" y="390.5" width="4" height="4" fill="#fff" stroke="#0000ff" stroke-width="1"/>
<rect x="-2.5" y="390.5" width="4" height="4" fill="#fff" stroke="#0000ff" stroke-width="1"/>
<rect x="1601.5" y="406.5" width="4" height="4" fill="#fff" stroke="#0000ff" stroke-width="1"/>
<rect x="-2.5" y="406.5" width="4" height="4" fill="#fff" stroke="#0000ff" stroke-width="1"/>
<rect x="5" y="617" width="1" height="5" fill="#c0c0c0"/>
<rect x="13" y="619" width="1" height="3" fill="#c0c0c0"/>
<rect x="21" y="620" width="1" height="2" fill="#c0c0c0"/>
<rect x="29" y="619" width="1" height="3" fill="#c0c0c0"/>
<rect x="37" y="616" width="1" height="6" fill="#c0c0c0"/>
<rect x="45" y="614" width="1" height="8" fill="#c0c0c0"/>
<rect x="53" y="612" width="1" height="10" fill="#c0c0c0"/>
<rect x="61" y="608" width="1" height="14" fill="#c0c0c0"/>
<rect x="69" y="605" width="1" height="17" fill="#c0c0c0"/>
<rect x="77" y="603" width="1" height="19" fill="#c0c0c0"/>
<rect x="85" y="601" width="1" height="21" fill="#c0c0c0"/>
<rect x="93" y="600" width="1" height="22" fill="#c0c0c0"/>
<rect x="101" y="598" width="1" height="24" fill="#c0c0c0"/>
<rect x="109" y="597" width="1" height="25" fill="#c0c0c0"/>
<rect x="117" y="596" width="1" height="26" fill="#c0c0c0"/>
<rect x="125" y="596" width="1" height="26" fill="#c0c0c0"/>
<rect x="133" y="595" width="1" height="27" fill="#c0c0c0"/>
<rect x="141" y="595" width="1" height="27" fill="#c0c0c0"/>
<rect x="149" y="595" width="1" height="27" fill="#c0c0c0"/>
<rect x="157" y="595" width="1" height="27" fill="#c0c0c0"/>
<rect x="165" y="596" width="1" height="26" fill="#c0c0c0"/>
<rect x="173" y="597" width="1" height="25" fill="#c0c0c0"/>
<rect x="181" y="597" width="1" height="25" fill="#c0c0c0"/>
<rect x="189" y="597" width="1" height="25" fill="#c0c0c0"/>
<rect x="197" y="596" width="1" height="26" fill="#c0c0c0"/>
<rect x="205" y="595" width="1" height="27" fill="#c0c0c0"/>
<rect x="213" y="594" width="1" height="28" fill="#c0c0c0"/>
<rect x="221" y="594" width="1" height="28" fill="#c0c0c0"/>
<rect x="229" y="593" width="1" height="29" fill="#c0c0c0"/>
<rect x="237" y="594" width="1" height="28" fill="#c0c0c0"/>
<rect x="245" y="594" width="1" height="28" fill="#c0c0c0"/>
<rect x="253" y="594" width="1" height="28" fill="#c0c0c0"/>
<rect x="261" y="596" width="1" height="26" fill="#c0c0c0"/>
<rect x="269" y="599" width="1" height="23" fill="#c0c0c0"/>
<rect x="277" y="599" width="1" height="23" fill="#c0c0c0"/>
<rect x="285" y="600" width="1" height="22" fill="#c0c0c0"/>
<rect x="293" y="602" width="1" height="20" fill="#c0c0c0"/>
<rect x="301" y="604" width="1" height="18" fill="#c0c0c0"/>
<rect x="309" y="606" width="1" height="16" fill="#c0c0c0"/>
<rect x="317" y="609" width="1" height="13" fill="#c0c0c0"/>
<rect x="325" y="610" width="1" height="12" fill="#c0c0c0"/>
<rect x="333" y="610" width="1" height="12" fill="#c0c0c0"/>
<rect x="341" y="609" width="1" height="13" fill="#c0c0c0"/>
<rect x="349" y="609" width="1" height="13" fill="#c0c0c0"/>
<rect x="357" y="609" width="1" height="13" fill="#c0c0c0"/>
<rect x="365" y="609" width="1" height="13" fill="#c0c0c0"/>
<rect x="373" y="610" width="1" height="12" fill="#c0c0c0"/>
<rect x="381" y="610" width="1" height="12" fill="#c0c0c0"/>
<rect x="389" y="612" width="1" height="10" fill="#c0c0c0"/>
<rect x="397" y="614" width="1" height="8" fill="#c0c0c0"/>
<rect x="405" y="614" width="1" height="8" fill="#c0c0c0"/>
<rect x="413" y="614" width="1" height="8" fill="#c0c0c0"/>
<rect x="421" y="614" width="1" height="8" fill="#c0c0c0"/>
<rect x="429" y="613" width="1" height="9" fill="#c0c0c0"/>
<rect x="437" y="613" width="1" height="9" fill="#c0c0c0"/>
<rect x="445" y="614" width="1" height="8" fill="#c0c0c0"/>
<rect x="453" y="615" width="1" height="7" fill="#c0c0c0"/>
<rect x="461" y="613" width="1" height="9" fill="#c0c0c0"/>
<rect x="469" y="610" width="1" height="12" fill="#c0c0c0"/>
<rect x="477" y="608" width="1" height="14" fill="#c0c0c0"/>
<rect x="485" y="606" width="1" height="16" fill="#c0c0c0"/>
<rect x="493" y="605" width="1" height="17" fill="#c0c0c0"/>
<rect x="501" y="606" width="1" height="16" fill="#c0c0c0"/>
<rect x="509" y="606" width="1" height="16" fill="#c0c0c0"/>
<rect x="517" y="607" width="1" height="15" fill="#c0c0c0"/>
<rect x="525" y="607" width="1" height="15" fill="#c0c0c0"/>
<rect x="533" y="608" width="1" height="14" fill="#c0c0c0"/>
<rect x="541" y="609" width="1" height="13" fill="#c0c0c0"/>
<rect x="549" y="610" width="1" height="12" fill="#c0c0c0"/>
<rect x="557" y="610" width="1" height="12" fill="#c0c0c0"/>
<rect x="565" y="611" width="1" height="11" fill="#c0c0c0"/>
<rect x="573" y="612" width="1" height="10" fill="#c0c0c0"/>
<rect x="581" y="615" width="1" height="7" fill="#c0c0c0"/>
<rect x="589" y="617" width="1" height="5" fill="#c0c0c0"/>
<rect x="597" y="619" width="1" height="3" fill="#c0c0c0"/>
<rect x="605" y="619" width="1" height="3" fill="#c0c0c0"/>
<rect x="613" y="621" width="1" height="1" fill="#c0c0c0"/>
<rect x="621" y="621" width="1" height="1" fill="#c0c0c0"/>
<rect x="629" y="621" width="1" height="4" fill="#c0c0c0"/>
<rect x="637" y="621" width="1" height="6" fill="#c0c0c0"/>
<rect x="645" y="621" width="1" height="5" fill="#c0c0c0"/>
<rect x="653" y="621" width="1" height="2" fill="#c0c0c0"/>
<rect x="661" y="621" width="1" height="1" fill="#c0c0c0"/>
<rect x="669" y="621" width="1" height="2" fill="#c0c0c0"/>
<rect x="677" y="619" width="1" height="3" fill="#c0c0c0"/>
<rect x="685" y="617" width="1" height="5" fill="#c0c0c0"/>
<rect x="693" y="616" width="1" height="6" fill="#c0c0c0"/>
<rect x="701" y="614" width="1" height="8" fill="#c0c0c0"/>
<rect x="709" y="613" width="1" height="9" fill="#c0c0c0"/>
<rect x="717" y="612" width="1" height="10" fill="#c0c0c0"/>
<rect x="725" y="611" width="1" height="11" fill="#c0c0c0"/>
<rect x="733" y="612" width="1" height="10" fill="#c0c0c0"/>
<rect x="741" y="614" width="1" height="8" fill="#c0c0c0"/>
<rect x="749" y="614" width="1" height="8" fill="#c0c0c0"/>
<rect x="757" y="616" width="1" height="6" fill="#c0c0c0"/>
<rect x="765" y="620" width="1" height="2" fill="#c0c0c0"/>
<rect x="773" y="621" width="1" height="3" fill="#c0c0c0"/>
<rect x="781" y="621" width="1" height="5" fill="#c0c0c0"/>
<rect x="789" y="621" width="1" height="7" fill="#c0c0c0"/>
<rect x="797" y="621" width="1" height="9" fill="#c0c0c0"/>
<rect x="805" y="621" width="1" height="14" fill="#c0c0c0"/>
<rect x="813" y="621" width="1" height="16" fill="#c0c0c0"/>
<rect x="821" y="621" width="1" height="18" fill="#c0c0c0"/>
<rect x="829" y="621" width="1" height="16" fill="#c0c0c0"/>
<rect x="837" y="621" width="1" height="11" fill="#c0c0c0"/>
<rect x="845" y="621" width="1" height="7" fill="#c0c0c0"/>
<rect x="853" y="621" width="1" height="4" fill="#c0c0c0"/>
<rect x="861" y="621" width="1" height="3" fill="#c0c0c0"/>
<rect x="869" y="621" width="1" height="2" fill="#c0c0c0"/>
<rect x="877" y="620" width="1" height="2" fill="#c0c0c0"/>
<rect x="885" y="618" width="1" height="4" fill="#c0c0c0"/>
<rect x="893" y="618" width="1" height="4" fill="#c0c0c0"/>
<rect x="901" y="619" width="1" height="3" fill="#c0c0c0"/>
<rect x="909" y="620" width="1" height="2" fill="#c0c0c0"/>
<rect x="917" y="621" width="1" height="1" fill="#c0c0c0"/>
<rect x="925" y="621" width="1" height="1" fill="#c0c0c0"/>
<rect x="933" y="621" width="1" height="2" fill="#c0c0c0"/>
<rect x="941" y="621" width="1" height="2" fill="#c0c0c0"/>
<rect x="949" y="621" width="1" height="4" fill="#c0c0c0"/>
<rect x="957" y="621" width="1" height="8" fill="#c0c0c0"/>
<rect x="965" y="621" width="1" height="14" fill="#c0c0c0"/>
<rect x="973" y="621" width="1" height="18" fill="#c0c0c0"/>
<rect x="981" y="621" width="1" height="22" fill="#c0c0c0"/>
<rect x="989" y="621" width="1" height="30" fill="#c0c0c0"/>
<rect x="997" y="621" width="1" height="42" fill="#c0c0c0"/>
<rect x="1005" y="621" width="1" height="48" fill="#c0c0c0"/>
<rect x="1013" y="621" width="1" height="47" fill="#c0c0c0"/>
<rect x="1021" y="621" width="1" height="52" fill="#c0c0c0"/>
<rect x="1029" y="621" width="1" height="50" fill="#c0c0c0"/>
<rect x="1037" y="621" width="1" height="52" fill="#c0c0c0"/>
<rect x="1045" y="621" width="1" height="57" fill="#c0c0c0"/>
<rect x="1053" y="621" width="1" height="63" fill="#c0c0c0"/>
<rect x="1061" y="621" width="1" height="71" fill="#c0c0c0"/>
<rect x="1069" y="621" width="1" height="75" fill="#c0c0c0"/>
<rect x="1077" y="621" width="1" height="82" fill="#c0c0c0"/>
<rect x="1085" y="621" width="1" height="100" fill="#c0c0c0"/>
<rect x="1093" y="621" width="1" height="104" fill="#c0c0c0"/>
<rect x="1101" y="621" width="1" height="110" fill="#c0c0c0"/>
<rect x="1109" y="621" width="1" height="121" fill="#c0c0c0"/>
<rect x="1117" y="621" width="1" height="124" fill="#c0c0c0"/>
<rect x="1125" y="621" width="1" height="124" fill="#c0c0c0"/>
<rect x="1133" y="621" width="1" height="123" fill="#c0c0c0"/>
<rect x="1141" y="621" width="1" height="120" fill="#c0c0c0"/>
<rect x="1149" y="621" width="1" height="122" fill="#c0c0c0"/>
<rect x="1157" y="621" width="1" height="114" fill="#c0c0c0"/>
<rect x="1165" y="621" width="1" height="98" fill="#c0c0c0"/>
<rect x="1173" y="621" width="1" height="84" fill="#c0c0c0"/>
<rect x="1181" y="621" width="1" height="71" fill="#c0c0c0"/>
<rect x="1189" y="621" width="1" height="63" fill="#c0c0c0"/>
<rect x="1197" y="621" width="1" height="56" fill="#c0c0c0"/>
<rect x="1205" y="621" width="1" height="47" fill="#c0c0c0"/>
<rect x="1213" y="621" width="1" height="42" fill="#c0c0c0"/>
<rect x="1221" y="621" width="1" height="43" fill="#c0c0c0"/>
<rect x="1229" y="621" width="1" height="42" fill="#c0c0c0"/>
<rect x="1237" y="621" width="1" height="43" fill="#c0c0c0"/>
<rect x="1245" y="621" width="1" height="42" fill="#c0c0c0"/>
<rect x="1253" y="621" width="1" height="33" fill="#c0c0c0"/>
<rect x="1261" y="621" width="1" height="26" fill="#c0c0c0"/>
<rect x="1269" y="621" width="1" height="18" fill="#c0c0c0"/>
<rect x="1277" y="621" width="1" height="10" fill="#c0c0c0"/>
<rect x="1285" y="621" width="1" height="6" fill="#c0c0c0"/>
<rect x="1293" y="621" width="1" height="2" fill="#c0c0c0"/>
<rect x="1301" y="621" width="1" height="2" fill="#c0c0c0"/>
<rect x="1309" y="617" width="1" height="5" fill="#c0c0c0"/>
<rect x="1317" y="616" width="1" height="6" fill="#c0c0c0"/>
<rect x="1325" y="612" width="1" height="10" fill="#c0c0c0"/>
<rect x="1333" y="610" width="1" height="12" fill="#c0c0c0"/>
<rect x="1341" y="609" width="1" height="13" fill="#c0c0c0"/>
<rect x="1349" y="608" width="1" height="14" fill="#c0c0c0"/>
<rect x="1357" y="611" width="1" height="11" fill="#c0c0c0"/>
<rect x="1365" y="611" width="1" height="11" fill="#c0c0c0"/>
<path d="M0 606.5h2m0 1h1m3 1h3m3 2h3m3 1h2m0 1h1m3 0h1m0 1h2m3 1h3m3 1h3m3 0h3m3 0h3m3 0h3m3-1h3m3 0h1m0-1h2m3 0h3m3-1h2m0-1h1m3-1h1m0-1h2m3-1h1m0-1h2m3-1h2m0-1h1m3-1h3m3-1h2m0-1h1m3 0h1m0-1h2m3-1h3m3-1h3m3-2h3m3-1h3m3-1h3m3 0h3m3 0h3m3 0h3m3 0h3m3 0h3m3 0h3m3 0h3m3 0h3m3 0h3m3 0h3m3 0h3m3 0h3m3 0h3m3 0h3m3-1h3m3 0h3m3 0h3m3 0h3m3 0h3m3 0h3m3 0h3m3 0h3m3 0h3m3 1h3m3 1h3m3 1h3m3 0h2m0 1h1m3 0h1m0 1h2m3 1h2m0 1h1m3 0h2m0 1h1m3 0h2m0 1h1m3 0h1m0 1h2m3 0h1m0 1h2m3 1h3m3 0h3m3 0h3m3 0h2m0 1h1m3 1h3m3 0h3m3 0h3m3 0h3m3 1h3m3 0h3m3 0h2m0 1h1m3 0h3m3 1h3m3 0h2m0 1h1m3 0h3m3 0h3m3 0h3m3 0h3m3 0h3m3 0h3m3 0h3m3 0h3m3-1h3m3 0h3m3-1h3m3 0h1m0-1h2m3-1h3m3-1h3m3 0h3m3-1h3m3 0h3m3 0h3m3 0h3m3 0h3m3 0h3m3 0h2m0 1h1m3 0h3m3 0h2m0 1h1m3 0h3m3 1h3m3 1h3m3 0h2m0 1h1m3 0h2m0 1h1m3 1h3m3 1h3m3 0h1m0 1h2m3 0h1m0 1h2m3 1h3m3 1h2m0 1h1m3 0h2m0 1h1m3 0h2m0 1h1m3 0h3m3 1h3m3 0h3m3 0h3m3 0h3m3 0h3m3 0h2m0-1h1m3 0h2m0-1h1m3 0h2m0-1h1m3 0h1m0-1h2m3-1h3m3-1h1m0-1h2m3 0h3m3-1h3m3-1h3m3 0h3m3 0h3m3 0h3m3 0h3m3 0h3m3 1h1m0 1h2m3 0h3m3 1h3m3 1h1m0 1h1m0 1h1m3 1h1m0 1h2m3 1h3m3 2h3m3 1h1m0 1h2m3 2h3m3 1h1m0 1h2m3 0h2m0 1h1m3 0h2m0 1h1m3 0h3m3 0h2m0-1h1m3 0h3m3 0h1m0-1h2m3-1h3m3-1h3m3-1h1m0-1h2m3-1h2m0-1h1m3 0h2m0-1h1m3 0h2m0-1h1m3-1h3m3 0h3m3-1h3m3 0h3m3-1h1m0-1h2m3 0h3m3 0h3m3 1h2m0 1h1m3 0h1m0 1h2m3 0h1m0 1h2m3 1h2m0 1h1m3 0h2m0 1h1m3 1h1m0 1h2m3 2h2m0 1h1m3 1h1m0 1h2m3 2h1m0 1h2m3 4h1m0 1h2m3 3h2m0 1h1m3 2h2m0 1h1m3 3h1m0 1h2m3 4h2m0 1h1m3 3h2m0 1h1m3 2h2m0 1h1m3 2h2m0 1h1m3 2h2m0 1h1m3 2h1m0 1h2m3 2h1m0 1h2m3 2h1m0 1h2m3 3h2m0 1h1m3 2h1m0 1h2m3 3h1m0 1h2m3 3h1m0 1h1m0 1h1m3 3h1m0 1h1m0 1h1m3 4h1m0 1h1m0 1h1m3 4h1m0 1h1m0 1h1m3 3h1m0 1h1m0 1h1m3 3h1m0 1h1m0 1h1m3 2h1m0 1h2m3 3h1m0 1h2m3 3h1m0 1h1m0 1h1m3 2h1m0 1h2m3 1h3m3 1h3m3 0h1m0-1h2m3-1h1m0-1h2m3-3h1m0-1h2m3-4h2m0-1h1m3-4h2m0-1h1m3-3h1m0-1h1m0-1h1m3-4h1m.5-2.5v2m3.5-5.5h1m0-1h1m0-1h1m3-4h1m0-1h1m0-1h1m2-4h1m0-1h1m0-1h1m3-4h1m0-1h1m0-1h1m3-4h1m0-1h1m0-1h1m3-3h2m0-1h1m3-3h2m0-1h1m3-2h1m0-1h1m0-1h1m3-2h1m0-1h2m3-2h1m0-1h2m3-2h1m0-1h2m3-2h1m0-1h2m3-3h2m0-1h1m3-2h1m0-1h2m3-3h2m0-1h1m3-2h2m0-1h1m3-2h1m0-1h2m3-3h2m0-1h1m3-2h1m0-1h2m3-2h1m0-1h2m3-3h2m0-1h1m3-2h1m0-1h2m3-2h1m0-1h2m3-2h3m3-2h3m3-1h2m0-1h1m3 0h2m0-1h1" fill="none" stroke="#ff0000" stroke-width="1"/>
<line x1="0" y1="791.5" x2="1606" y2="791.5" stroke="#c0c0c0" stroke-width="1" stroke-dasharray="3 3"/>
<line x1="0" y1="842.5" x2="1606" y2="842.5" stroke="#c0c0c0" stroke-width="1" stroke-dasharray="3 3"/>
<line x1="0" y1="903.5" x2="1606" y2="903.5" stroke="#c0c0c0" stroke-width="1" stroke-dasharray="3 3"/>
<path d="M-3 844.5h4m0 1h5m0 1h1m0 1h2m0 1h1m0 1h1m0 1h2m0 1h1m0-1h2m0-1h1m0-1h2m0-1h2m0-1h1m.5-2.5v2m1-4v2m1-4v2m1-4v2m1-4v2m1-4v2m1-4v2m.5-2.5h1m0-1h1m.5-2.5v2m.5-2.5h1m0-1h1m0-1h1m.5-2.5v2m.5-2.5h1m0-1h2m0-1h4m0-1h11m.5-2.5v2m.5-2.5h1m.5-2.5v2m.5-2.5h1m.5-2.5v2m.5-2.5h1m.5-2.5v2m.5-2.5h2m0 1h4m0 1h6m0-1h6m0 1h4m0 1h4m0-1h4m0-1h3m0-1h2m0-1h2m0-1h2m0-1h11m0-1h4m0-1h6m0-1h8m0-1h8m0-1h6m0-1h2m0-1h3m0-1h3m0 1h4m0 1h11m-1 1h1m.5 .5v3m1 0v2m1 0v3m1 0v3m1 0v3m1 0v2m1 0v3m1 0v2m.5-1.5h1m.5-2.5v2m.5-2.5h1m0-1h1m0-1h1m.5-2.5v2m.5-2.5h1m0-1h4m0-1h5m0-1h1m0-1h1m0-1h1m.5-2.5v2m.5-2.5h1m0-1h1m0-1h1m0-1h2m0-1h2m0-1h3m0-1h2m0 1h2m0 1h1m0 1h2m0 1h2m0 1h1m0-1h1m0-1h1m0-1h1m0-1h1m0-1h1m0-1h1m0-1h1m0-1h1m0 1h1m.5 .5v2m.5 .5h1m0 1h1m0 1h1m.5 .5v2m.5 .5h1m0 1h9m0 1h1m0 1h1m0 1h1m0 1h1m0 1h1m0 1h1m0 1h1m0 1h2m0-1h2m0-1h3m0-1h2m0 1h1m0 1h1m0 1h1m0 1h1m0 1h1m0 1h1m0 1h1m0 1h1m.5 .5v2m.5 .5h1m0 1h1m.5 .5v2m.5 .5h1m0 1h1m.5 .5v2m.5 .5h1m0-1h1m0-1h1m0-1h1m.5-2.5v2m.5-2.5h1m0-1h1m0-1h1m0-1h1m0 1h1m0 1h2m0 1h1m0 1h1m0 1h2m0 1h2m0-1h2m0-1h3m0-1h2m.5 .5v2m.5 .5h1m.5 .5v2m.5 .5h1m.5 .5v2m.5 .5h1m.5 .5v2m.5 .5h1m0 1h1m0 1h2m0 1h1m0 1h1m0 1h2m0 1h2m0 1h4m0 1h3m0-1h1m0-1h1m0-1h1m0-1h2m0-1h1m0-1h1m0-1h1m0-1h1m0-1h1m0-1h1m0-1h2m0-1h1m0-1h1m0-1h1m0-1h1m0-1h1m0-1h1m0-1h2m0-1h1m0-1h1m0-1h4m0 1h8m0-1h13m.5 .5v2m.5 .5h1m0 1h1m.5 .5v2m.5 .5h1m0 1h1m.5 .5v2m.5 .5h2m0-1h2m0-1h3m0-1h2m.5 .5v2m.5 .5h1m.5 .5v2m.5 .5h1m.5 .5v2m.5 .5h1m.5 .5v2m.5 .5h1m0 1h2m0 1h2m0 1h2m0 1h2m0-1h1m0-1h1m0-1h1m.5-2.5v2m.5-2.5h1m0-1h1m0-1h1m0-1h2m0-1h2m0-1h3m0-1h2m0-1h1m0-1h1m0-1h1m.5-2.5v2m.5-2.5h1m0-1h1m0-1h1m0-1h4m0-1h5m.5 .5v2m.5 .5h1m.5 .5v2m.5 .5h1m.5 .5v2m.5 .5h1m.5 .5v2m.5 .5h4m0 1h8m0-1h5m-1-1h1m.5-3.5v3m1-6v3m1-6v3m1-5v2m1-5v3m1-6v3m1-6v3m1-5v2m.5-1.5h3m0 1h8m0-1h5m0-1h2m0-1h1m0-1h2m0-1h2m0-1h1m0 1h2m0 1h1m0 1h2m0 1h2m0 1h1m0 1h1m.5 .5v2m.5 .5h1m0 1h1m0 1h1m.5 .5v2m.5 .5h1m0 1h10m0 1h2m0 1h3m0 1h3m0-1h4m0-1h3m0 1h2m0 1h2m0 1h2m0 1h3m0 1h2m0 1h3m0 1h2m0 1h2m0 1h2m0 1h2m0 1h2m.5-2.5v2m.5-2.5h1m.5-2.5v2m.5-2.5h1m.5-2.5v2m.5-2.5h1m.5-2.5v2m.5-2.5h1m.5 .5v2m.5 .5h1m0 1h1m.5 .5v2m.5 .5h1m0 1h1m.5 .5v2m.5 .5h2m0 1h4m0 1h3m-1 1h1m.5 .5v2m1 0v3m1 0v2m1 0v3m1 0v2m1 0v3m1 0v2m1 0v2m.5-.5h3m0-1h5m0-1h2m0-1h1m0-1h2m0-1h2m0-1h1m.5-2.5v2m.5-2.5h1m.5-2.5v2m.5-2.5h1m.5-2.5v2m.5-2.5h1m.5-2.5v2m1-3v2m1 0v2m1 0v2m1 0v3m1 0v2m1 0v3m1 0v2m1 0v2m1 0v2m.5 .5h2m0 1h2m0 1h2m0 1h3m0-1h4m0-1h3m0 1h1m0 1h2m0 1h1m0 1h1m0 1h2m.5-.5v2m1-5v3m1-5v2m1-5v3m1-6v3m1-6v3m1-5v2m1-5v3m1-5v2m.5-2.5h1m0-1h1m0-1h1m.5-2.5v2m.5-2.5h1m0-1h1m0-1h1m0-1h2m0 1h4m0 1h6m0-1h5m0-1h1m.5-2.5v2m.5-2.5h1m0-1h1m0-1h1m.5-2.5v2m.5-2.5h1m0-1h1m0 1h2m0 1h2m0 1h2m0 1h3m0-1h4m0-1h3m0-1h1m0-1h2m0-1h1m0-1h1m0-1h2m0-1h1m0 1h2m0 1h1m0 1h2m0 1h2m0 1h2m0-1h4m0-1h6m0 1h5m.5 .5v2m1 0v2m1 0v2m1 0v2m1 0v2m1 0v2m1 0v2m.5 .5h10m0-1h4m0-1h3m.5 .5v2m.5 .5h1m.5 .5v2m.5 .5h1m.5 .5v2m.5 .5h1m.5 .5v2m.5 .5h1m.5 .5v2m1 0v2m1 0v2m1 0v2m1 0v2m1 0v2m1 0v2m.5 .5h1m0 1h1m0 1h1m0 1h1m0 1h2m0 1h1m0 1h1m0 1h1m0-1h1m.5-2.5v2m.5-2.5h1m0-1h1m0-1h1m.5-2.5v2m.5-2.5h1m0-1h4m0 1h5m0 1h2m0 1h1m0 1h2m0 1h2m0 1h1m.5 .5v2m1 0v2m.5 .5h1m.5 .5v2m.5 .5h1m.5 .5v2m1 0v2m.5 .5h1m0-1h2m0-1h1m0-1h2m0-1h2m0-1h1m0-1h1m0-1h2m0-1h1m0-1h1m0-1h2m.5-2.5v2m1-5v3m1-6v3m1-6v3m1-5v2m1-5v3m1-6v3m1-6v3m1-5v2m1-4v2m.5-2.5h1m.5-2.5v2m.5-2.5h1m.5-2.5v2m.5-2.5h1m.5-2.5v2m.5-2.5h1m0-1h1m0-1h1m0-1h1m.5-2.5v2m.5-2.5h1m0-1h1m0-1h1m0-1h1m0 1h1m.5 .5v2m.5 .5h1m0 1h1m0 1h1m.5 .5v2m.5 .5h1m0 1h2m0 1h2m0 1h3m0 1h3m0-1h2m0-1h3m0-1h2m0-1h2m0-1h2m0-1h2m0-1h10m0 1h1m0 1h1m0 1h1m0 1h1m0 1h1m0 1h1m0 1h1m0 1h1m0 1h1m0 1h2m0 1h1m0 1h1m0 1h2m0 1h9m0 1h2m0 1h2m0 1h2m0 1h3m0 1h2m0 1h3m0 1h2m.5-2.5v2m1-4v2m1-4v2m1-4v2m1-4v2m1-4v2m1-4v2m.5-2.5h1m0 1h1m.5 .5v2m.5 .5h1m0 1h1m0 1h1m.5 .5v2m.5 .5h1m0 1h1m0 1h1m0 1h1m0 1h1m.5 .5v2m.5 .5h1m0 1h1m0 1h1m0 1h1m0 1h1m0 1h1m0 1h1m.5 .5v2m.5 .5h1m0 1h1m0 1h1m0 1h1m0 1h1m.5 .5v2m.5 .5h1m0 1h1m0 1h1m.5 .5v2m.5 .5h1m0 1h4m0 1h8m0 1h5m.5 .5v2m1 0v2m.5 .5h1m.5 .5v2m.5 .5h1m.5 .5v2m1 0v2m.5 .5h1m0 1h1m0 1h1m0 1h1m.5 .5v2m.5 .5h1m0 1h1m0 1h1m0 1h1m0-1h1m.5-2.5v2m.5-2.5h1m0-1h1m0-1h1m.5-2.5v2m.5-2.5h1m.5-2.5v2m1-5v3m1-6v3m1-6v3m1-7v4m1-7v3m1-6v3m1-6v3m1-5v2m.5-.5h1m.5 .5v2m.5 .5h1m0 1h1m0 1h1m.5 .5v2m.5 .5h1m0 1h1m.5-2.5v2m.5-2.5h1m.5-2.5v2m.5-2.5h1m.5-2.5v2m.5-2.5h1m.5-2.5v2m.5-2.5h1m0 1h1m0 1h2m0 1h1m0 1h1m0 1h2m0 1h1m0 1h1m0 1h1m0 1h1m0 1h1m0 1h1m0 1h1m0 1h1m0 1h1m0 1h2m0 1h2m0 1h2m0 1h2m0 1h2m0 1h1m0 1h2m0 1h2m0 1h1m0-1h2m0-1h1m0-1h2m0-1h2m0-1h1m0 1h1m0 1h2m0 1h1m0 1h1m0 1h2m0 1h1m.5 .5v2m.5 .5h1m.5 .5v2m.5 .5h1m.5 .5v2m.5 .5h1m.5 .5v2m1-1v2m1-4v2m1-5v3m1-6v3m1-5v2m1-5v3m1-6v3m1-5v2m1-4v2m.5-1.5h1m0 1h2m0 1h3m0 1h2m0 1h1m0 1h2m0 1h1m0 1h1m0 1h2m0 1h1m0-1h1m0-1h1m0-1h1m0-1h1m0-1h1m0-1h1m0-1h1m0-1h9m0-1h2m0-1h2m0-1h2m0-1h5m0 1h5m0 1h2m0 1h1m0 1h2m0 1h2m.5-.5v2m1-4v2m1-4v2m1-4v2m1-5v3m1-5v2m1-4v2m1-4v2m1-4v2m1-4v2m1-4v2m1-4v2m1-4v2m1-4v2m1-4v2m1-4v2m1-4v2m.5-1.5h8m0-1h2m0-1h2m0-1h2m0-1h2m0 1h1m0 1h2m0 1h1m0 1h1m0 1h2m0 1h9m0-1h1m0-1h1m0-1h1m0-1h2m0-1h1m0-1h1m0-1h1m0 1h1m0 1h1m0 1h1m0 1h2m0 1h1m0 1h1m0 1h1m0 1h1m0 1h1m0 1h1m0 1h2m0 1h1m0 1h1m0 1h10m0 1h4m0 1h4m0-1h4m0-1h3m.5-2.5v2m1-4v2m1-4v2m1-4v2m1-4v2m1-4v2m1-4v2m1-4v2m.5-1.5h8m0-1h2m0-1h2m0-1h2m0-1h3m0-1h2m0-1h3m0-1h3m0 1h2m0 1h3m0 1h3m0 1h4m0 1h4m0 1h4m0 1h3m0-1h1m0-1h2m0-1h1m0-1h1m0-1h2m0-1h1m0 1h2m0 1h1m0 1h2m0 1h2m0 1h1m0-1h1m0-1h1m0-1h1m0-1h2m0-1h1m0-1h1m0-1h2m0 1h4m0 1h12m0 1h2m0 1h3m0 1h2m0 1h1m0 1h1m0 1h1m0 1h2m0 1h1m0 1h1m0 1h2m0-1h2m0-1h3m0-1h2" fill="none" stroke="#1e90ff" stroke-width="1"/>
<rect x="1607" y="50" width="2" height="1" fill="#000"/>
<text x="1612" y="54" font-size="9.6" fill="#000" text-anchor="start" textLength="33" lengthAdjust="spacingAndGlyphs">24187.0</text>
<rect x="1607" y="83" width="2" height="1" fill="#000"/>
<text x="1612" y="87" font-size="9.6" fill="#000" text-anchor="start" textLength="33" lengthAdjust="spacingAndGlyphs">23643.0</text>
<rect x="1607" y="116" width="2" height="1" fill="#000"/>
<text x="1612" y="120" font-size="9.6" fill="#000" text-anchor="start" textLength="33" lengthAdjust="spacingAndGlyphs">23115.0</text>
<rect x="1607" y="149" width="2" height="1" fill="#000"/>
<text x="1612" y="153" font-size="9.6" fill="#000" text-anchor="start" textLength="33" lengthAdjust="spacingAndGlyphs">22587.0</text>
<rect x="1607" y="182" width="2" height="1" fill="#000"/>
<text x="1612" y="186" font-size="9.6" fill="#000" text-anchor="start" textLength="33" lengthAdjust="spacingAndGlyphs">22059.0</text>
<rect x="1607" y="215" width="2" height="1" fill="#000"/>
<text x="1612" y="219" font-size="9.6" fill="#000" text-anchor="start" textLength="33" lengthAdjust="spacingAndGlyphs">21531.0</text>
<rect x="1607" y="248" width="2" height="1" fill="#000"/>
<text x="1612" y="252" font-size="9.6" fill="#000" text-anchor="start" textLength="33" lengthAdjust="spacingAndGlyphs">20987.0</text>
<rect x="1607" y="281" width="2" height="1" fill="#000"/>
<text x="1612" y="285" font-size="9.6" fill="#000" text-anchor="start" textLength="33" lengthAdjust="spacingAndGlyphs">20459.0</text>
<rect x="1607" y="314" width="2" height="1" fill="#000"/>
<text x="1612" y="318" font-size="9.6" fill="#000" text-anchor="start" textLength="33" lengthAdjust="spacingAndGlyphs">19931.0</text>
<rect x="1607" y="347" width="2" height="1" fill="#000"/>
<text x="1612" y="351" font-size="9.6" fill="#000" text-anchor="start" textLength="33" lengthAdjust="spacingAndGlyphs">19403.0</text>
<rect x="1607" y="380" width="2" height="1" fill="#000"/>
<text x="1612" y="384" font-size="9.6" fill="#000" text-anchor="start" textLength="33" lengthAdjust="spacingAndGlyphs">18875.0</text>
<rect x="1607" y="413" width="2" height="1" fill="#000"/>
<text x="1612" y="417" font-size="9.6" fill="#000" text-anchor="start" textLength="33" lengthAdjust="spacingAndGlyphs">18331.0</text>
<rect x="1607" y="446" width="2" height="1" fill="#000"/>
<text x="1612" y="450" font-size="9.6" fill="#000" text-anchor="start" textLength="33" lengthAdjust="spacingAndGlyphs">17803.0</text>
<rect x="1607" y="479" width="2" height="1" fill="#000"/>
<text x="1612" y="483" font-size="9.6" fill="#000" text-anchor="start" textLength="33" lengthAdjust="spacingAndGlyphs">17275.0</text>
<rect x="1607" y="512" width="2" height="1" fill="#000"/>
<text x="1612" y="516" font-size="9.6" fill="#000" text-anchor="start" textLength="33" lengthAdjust="spacingAndGlyphs">16747.0</text>
<rect x="1607" y="545" width="2" height="1" fill="#000"/>
<text x="1612" y="549" font-size="9.6" fill="#000" text-anchor="start" textLength="33" lengthAdjust="spacingAndGlyphs">16219.0</text>
<rect x="1607" y="578" width="2" height="1" fill="#000"/>
<text x="1612" y="582" font-size="9.6" fill="#000" text-anchor="start" textLength="33" lengthAdjust="spacingAndGlyphs">15691.0</text>
<text x="1610" y="594" font-size="9.6" fill="#000" text-anchor="start" textLength="27.5" lengthAdjust="spacingAndGlyphs">449.59</text>
<text x="1610" y="625" font-size="9.6" fill="#000" text-anchor="start" textLength="17.5" lengthAdjust="spacingAndGlyphs">0.00</text>
<text x="1610" y="751" font-size="9.6" fill="#000" text-anchor="start" textLength="35.5" lengthAdjust="spacingAndGlyphs">-1644.35</text>
<rect x="1607" y="585" width="1" height="1" fill="#000"/>
<rect x="1607" y="621" width="2" height="1" fill="#000"/>
<rect x="1607" y="752" width="1" height="1" fill="#000"/>
<text x="1610.5" y="766" font-size="9.6" fill="#000" text-anchor="start" textLength="14.3" lengthAdjust="spacingAndGlyphs">100</text>
<text x="1609.4" y="795" font-size="9.6" fill="#000" text-anchor="start" textLength="9.6" lengthAdjust="spacingAndGlyphs">80</text>
<text x="1609.4" y="846" font-size="9.6" fill="#000" text-anchor="start" textLength="9.6" lengthAdjust="spacingAndGlyphs">50</text>
<text x="1609.4" y="907" font-size="9.6" fill="#000" text-anchor="start" textLength="9.6" lengthAdjust="spacingAndGlyphs">15</text>
<text x="1610.5" y="926" font-size="9.6" fill="#000" text-anchor="start" textLength="4.8" lengthAdjust="spacingAndGlyphs">0</text>
<rect x="1607" y="757" width="1" height="1" fill="#000"/>
<rect x="1608" y="315" width="41" height="11" fill="#ff0000"/>
<text x="1612" y="324" font-size="9.6" fill="#fff" text-anchor="start" textLength="33" lengthAdjust="spacingAndGlyphs">19819.5</text>
<rect x="1608" y="335" width="41" height="11" fill="#ff0000"/>
<text x="1612" y="344" font-size="9.6" fill="#fff" text-anchor="start" textLength="33" lengthAdjust="spacingAndGlyphs">19498.2</text>
<rect x="1608" y="352" width="41" height="11" fill="#000000"/>
<text x="1612" y="361" font-size="9.6" fill="#fff" text-anchor="start" textLength="33" lengthAdjust="spacingAndGlyphs">19240.0</text>
<rect x="1608" y="369" width="41" height="11" fill="#32cd32"/>
<text x="1612" y="378" font-size="9.6" fill="#fff" text-anchor="start" textLength="33" lengthAdjust="spacingAndGlyphs">18952.1</text>
<rect x="1608" y="386" width="41" height="11" fill="#0000ff"/>
<text x="1612" y="395" font-size="9.6" fill="#fff" text-anchor="start" textLength="33" lengthAdjust="spacingAndGlyphs">18679.0</text>
<rect x="1608" y="402" width="41" height="11" fill="#0000ff"/>
<text x="1612" y="411" font-size="9.6" fill="#fff" text-anchor="start" textLength="33" lengthAdjust="spacingAndGlyphs">18422.0</text>
<rect x="-3" y="929" width="1" height="4" fill="#000"/>
<text x="-3.5" y="942" font-size="9.6" fill="#000" text-anchor="start" textLength="45.2" lengthAdjust="spacingAndGlyphs">6 Oct 2019</text>
<rect x="61" y="929" width="1" height="4" fill="#000"/>
<text x="60.5" y="942" font-size="9.6" fill="#000" text-anchor="start" textLength="50.4" lengthAdjust="spacingAndGlyphs">15 Oct 2019</text>
<rect x="125" y="929" width="1" height="4" fill="#000"/>
<text x="124.5" y="942" font-size="9.6" fill="#000" text-anchor="start" textLength="50.4" lengthAdjust="spacingAndGlyphs">24 Oct 2019</text>
<rect x="189" y="929" width="1" height="4" fill="#000"/>
<text x="188.5" y="942" font-size="9.6" fill="#000" text-anchor="start" textLength="47.3" lengthAdjust="spacingAndGlyphs">3 Nov 2019</text>
<rect x="253" y="929" width="1" height="4" fill="#000"/>
<text x="252.5" y="942" font-size="9.6" fill="#000" text-anchor="start" textLength="52.5" lengthAdjust="spacingAndGlyphs">12 Nov 2019</text>
<rect x="317" y="929" width="1" height="4" fill="#000"/>
<text x="316.5" y="942" font-size="9.6" fill="#000" text-anchor="start" textLength="52.5" lengthAdjust="spacingAndGlyphs">21 Nov 2019</text>
<rect x="381" y="929" width="1" height="4" fill="#000"/>
<text x="380.5" y="942" font-size="9.6" fill="#000" text-anchor="start" textLength="47.3" lengthAdjust="spacingAndGlyphs">1 Dec 2019</text>
<rect x="445" y="929" width="1" height="4" fill="#000"/>
<text x="444.5" y="942" font-size="9.6" fill="#000" text-anchor="start" textLength="52.5" lengthAdjust="spacingAndGlyphs">10 Dec 2019</text>
<rect x="509" y="929" width="1" height="4" fill="#000"/>
<text x="508.5" y="942" font-size="9.6" fill="#000" text-anchor="start" textLength="52.5" lengthAdjust="spacingAndGlyphs">19 Dec 2019</text>
<rect x="573" y="929" width="1" height="4" fill="#000"/>
<text x="572.5" y="942" font-size="9.6" fill="#000" text-anchor="start" textLength="52.5" lengthAdjust="spacingAndGlyphs">29 Dec 2019</text>
<rect x="637" y="929" width="1" height="4" fill="#000"/>
<text x="636.5" y="942" font-size="9.6" fill="#000" text-anchor="start" textLength="45.8" lengthAdjust="spacingAndGlyphs">7 Jan 2020</text>
<rect x="701" y="929" width="1" height="4" fill="#000"/>
<text x="700.5" y="942" font-size="9.6" fill="#000" text-anchor="start" textLength="50.9" lengthAdjust="spacingAndGlyphs">16 Jan 2020</text>
<rect x="765" y="929" width="1" height="4" fill="#000"/>
<text x="764.5" y="942" font-size="9.6" fill="#000" text-anchor="start" textLength="50.9" lengthAdjust="spacingAndGlyphs">26 Jan 2020</text>
<rect x="829" y="929" width="1" height="4" fill="#000"/>
<text x="828.5" y="942" font-size="9.6" fill="#000" text-anchor="start" textLength="46.8" lengthAdjust="spacingAndGlyphs">4 Feb 2020</text>
<rect x="893" y="929" width="1" height="4" fill="#000"/>
<text x="892.5" y="942" font-size="9.6" fill="#000" text-anchor="start" textLength="51.9" lengthAdjust="spacingAndGlyphs">13 Feb 2020</text>
<rect x="957" y="929" width="1" height="4" fill="#000"/>
<text x="956.5" y="942" font-size="9.6" fill="#000" text-anchor="start" textLength="51.9" lengthAdjust="spacingAndGlyphs">23 Feb 2020</text>
<rect x="1021" y="929" width="1" height="4" fill="#000"/>
<text x="1020.5" y="942" font-size="9.6" fill="#000" text-anchor="start" textLength="46.8" lengthAdjust="spacingAndGlyphs">3 Mar 2020</text>
<rect x="1085" y="929" width="1" height="4" fill="#000"/>
<text x="1084.5" y="942" font-size="9.6" fill="#000" text-anchor="start" textLength="51.9" lengthAdjust="spacingAndGlyphs">12 Mar 2020</text>
<rect x="1149" y="929" width="1" height="4" fill="#000"/>
<text x="1148.5" y="942" font-size="9.6" fill="#000" text-anchor="start" textLength="51.9" lengthAdjust="spacingAndGlyphs">22 Mar 2020</text>
<rect x="1213" y="929" width="1" height="4" fill="#000"/>
<text x="1212.5" y="942" font-size="9.6" fill="#000" text-anchor="start" textLength="51.9" lengthAdjust="spacingAndGlyphs">31 Mar 2020</text>
<rect x="1277" y="929" width="1" height="4" fill="#000"/>
<text x="1276.5" y="942" font-size="9.6" fill="#000" text-anchor="start" textLength="44.7" lengthAdjust="spacingAndGlyphs">9 Apr 2020</text>
<rect x="1341" y="929" width="1" height="4" fill="#000"/>
<text x="1340.5" y="942" font-size="9.6" fill="#000" text-anchor="start" textLength="49.9" lengthAdjust="spacingAndGlyphs">19 Apr 2020</text>
<rect x="1446" y="375" width="8" height="1" fill="#ff0000"/>
<rect x="1453.5" y="373.5" width="2" height="3" fill="#fff" stroke="#ff0000"/>
<rect x="1456.5" y="363.5" width="73" height="24" fill="#fff" stroke="#ff0000"/>
<text x="1458.5" y="384" font-size="23" fill="#ff0000" text-anchor="start" textLength="69" lengthAdjust="spacingAndGlyphs">18952.1</text>
<rect x="1375" y="29" width="9" height="1" fill="#c0c0c0"/>
<rect x="1376" y="30" width="7" height="1" fill="#c0c0c0"/>
<rect x="1377" y="31" width="5" height="1" fill="#c0c0c0"/>
<rect x="1378" y="32" width="3" height="1" fill="#c0c0c0"/>
<rect x="1379" y="33" width="1" height="1" fill="#c0c0c0"/>
<polygon points="0,40 8,40 4,35" fill="#000"/>
<text x="11.5" y="40" font-size="9.6" fill="#000" text-anchor="start" textLength="60.5" lengthAdjust="spacingAndGlyphs">JPN225-,Daily</text>
<text x="78.5" y="40" font-size="9.6" fill="#000" text-anchor="start" textLength="140.5" lengthAdjust="spacingAndGlyphs">19067.5 19317.5 18822.5 19240.0</text>
<text x="1.3" y="596" font-size="9.6" fill="#000" text-anchor="start" textLength="127.3" lengthAdjust="spacingAndGlyphs">MACD(12,26,9) 126.74 108.37</text>
<text x="1.3" y="768" font-size="9.6" fill="#000" text-anchor="start" textLength="67.3" lengthAdjust="spacingAndGlyphs">RSI(14) 51.5318</text>
</svg>
<div id="cn">多空转折点</div>
<div id="oc" style="top:0;height:0"><div style="left:219px;top:48px;width:2px;height:64px;background:#fff"></div>
<div style="left:52px;top:48px;width:115px;height:24px;background:#fff"></div>
<div style="left:0;top:48px;width:52px;height:25px;background:linear-gradient(#f95252,#e13434);border:1px solid #b40a0a;border-bottom:none"></div>
<div style="left:167px;top:48px;width:52px;height:25px;background:linear-gradient(#f95252,#e13434);border:1px solid #b40a0a;border-bottom:none"></div>
<div style="left:0;top:72px;width:109px;height:40px;background:linear-gradient(#e13232,#c41818 60%,#b00202);border:1px solid #b40a0a;border-top:none"></div>
<div style="left:111px;top:72px;width:108px;height:40px;background:linear-gradient(#e13232,#c41818 60%,#b00202);border:1px solid #b40a0a;border-top:none"></div>
<div style="left:52px;top:72px;width:57px;height:1px;background:#b40a0a"></div>
<div style="left:111px;top:72px;width:56px;height:1px;background:#b40a0a"></div>
<div style="left:4px;top:71px;width:44px;height:1px;background:#9c0000"></div>
<div style="left:4px;top:72px;width:44px;height:1px;background:#f47070"></div>
<div style="left:171px;top:71px;width:44px;height:1px;background:#9c0000"></div>
<div style="left:171px;top:72px;width:44px;height:1px;background:#f47070"></div>
<div style="left:54px;top:48px;width:111px;height:22px;background:#fff;border:1px solid #a3a9b3"></div>
<div style="left:55px;top:49px;width:20px;height:20px;background:linear-gradient(#f4f4f4 0%,#e9e9e9 45%,#d6d6d6 50%,#cfcfcf 100%);border-right:1px solid #a3a9b3;border-left:1px solid #a3a9b3"></div>
<div style="left:144px;top:49px;width:20px;height:20px;background:linear-gradient(#f4f4f4 0%,#e9e9e9 45%,#d6d6d6 50%,#cfcfcf 100%);border-right:1px solid #a3a9b3;border-left:1px solid #a3a9b3"></div>
<div style="left:55px;top:49px;width:1px;height:20px;background:#fff"></div></div>
<svg id="ov" width="1653" height="945" viewBox="0 0 1653 945" style="position:absolute;left:0;top:0"><text x="12.5" y="64" font-size="12" fill="#fff" text-anchor="start" textLength="25.5" lengthAdjust="spacingAndGlyphs">SELL</text>
<text x="180.5" y="64" font-size="12" fill="#fff" text-anchor="start" textLength="23.5" lengthAdjust="spacingAndGlyphs">BUY</text>
<text x="116.5" y="63" font-size="12" fill="#000" text-anchor="start" textLength="23.5" lengthAdjust="spacingAndGlyphs">1.00</text>
<text x="16" y="103" font-size="12" fill="#fff" text-anchor="start" textLength="35" lengthAdjust="spacingAndGlyphs" font-weight="bold">19238</text>
<text x="126" y="103" font-size="12" fill="#fff" text-anchor="start" textLength="35" lengthAdjust="spacingAndGlyphs" font-weight="bold">19261</text>
<rect x="55" y="100" width="4" height="3" fill="#fff"/>
<rect x="166.5" y="100" width="4" height="3" fill="#fff"/>
<text x="62.5" y="103" font-size="33" fill="#fff" text-anchor="start" textLength="15.5" lengthAdjust="spacingAndGlyphs">5</text>
<text x="173.5" y="103" font-size="33" fill="#fff" text-anchor="start" textLength="15.5" lengthAdjust="spacingAndGlyphs">5</text>
<polygon points="62,57 68,57 65,60" fill="#4a5fc0" shape-rendering="auto"/>
<polygon points="151,60 157,60 154,57" fill="#4a5fc0" shape-rendering="auto"/>
<text x="-4" y="15" font-size="11" fill="#000" textLength="36" lengthAdjust="spacingAndGlyphs">新订单</text>
<text x="148.5" y="15" font-size="11" fill="#000" textLength="47" lengthAdjust="spacingAndGlyphs">自动交易</text>
<defs><linearGradient id="gd" x1="0" y1="0" x2="1" y2="1"><stop offset="0" stop-color="#fbe88a"/><stop offset="0.5" stop-color="#e8b828"/><stop offset="1" stop-color="#b87808"/></linearGradient><linearGradient id="cl" x1="0" y1="0" x2="0" y2="1"><stop offset="0" stop-color="#ffffff"/><stop offset="1" stop-color="#c8d8f0"/></linearGradient><linearGradient id="cu" x1="0" y1="0" x2="1" y2="1"><stop offset="0" stop-color="#60c0ff"/><stop offset="1" stop-color="#1080e8"/></linearGradient><linearGradient id="yf" x1="0" y1="0" x2="1" y2="1"><stop offset="0" stop-color="#fff0a0"/><stop offset="1" stop-color="#e8a818"/></linearGradient></defs>
<g shape-rendering="auto">
<polygon points="48.6,5.3 51,5.3 59.6,12.3 59.2,14.6 51.6,19.6 50,19.3 44,14 46.7,10.2" fill="url(#gd)" stroke="#a86810" stroke-width="0.8"/>
<path d="M44.5 14.5 L50.5 18.5 L59 13" stroke="#8a5008" stroke-width="1.2" fill="none"/>
<polygon points="74.3,4.3 85.2,4.3 85.2,13 76.3,13" fill="url(#cu)"/>
<polygon points="74.3,4.3 76.5,6 76.5,13 76.3,13" fill="#d0ecff"/>
<rect x="79" y="7.500" width="4.500" height="1.800" fill="#e8f6ff"/>
<path d="M75 19.300 a2.800 2.800 0 0 1 -0.300 -5.500 a3.600 3.600 0 0 1 6.200 -0.800 a3 3 0 0 1 4.300 1.200 a2.600 2.600 0 0 1 0 5.100 z" fill="url(#cl)" stroke="#5078b8" stroke-width="0.9"/>
<path d="M108 4 a8 8 0 0 0 0 16" fill="none" stroke="#a8c4ec" stroke-width="1.200"/>
<path d="M108 4 a8 8 0 0 1 0 16" fill="none" stroke="#a8d0a8" stroke-width="1.200"/>
<path d="M108 6.500 a5.500 5.500 0 0 0 0 11" fill="none" stroke="#5080d8" stroke-width="1.300"/>
<path d="M108 6.500 a5.500 5.500 0 0 1 0 11" fill="none" stroke="#80b880" stroke-width="1.300"/>
<path d="M108.300 12 L108.300 19.800 A8 8 0 0 0 115.500 14.500 z" fill="#58b058" opacity="0.85"/>
<path d="M108.300 12 V19.800" stroke="#20a020" stroke-width="1.300"/>
<circle cx="108" cy="11.500" r="2.200" fill="#2858d0"/>
<path d="M128.500 10.500 L142.500 10.500 L141 14 L135.500 19.300 L132 16 z" fill="url(#yf)" stroke="#d09818" stroke-width="0.600"/>
<ellipse cx="135.200" cy="8.700" rx="8" ry="2.600" fill="#4a98d8"/>
<path d="M131 8 a4.300 4 0 0 1 8.600 0 z" fill="#78c0f0"/>
<circle cx="139.500" cy="16" r="4.200" fill="#e01808"/>
<rect x="138" y="14.500" width="3" height="3" fill="#fff"/>
</g>
<rect x="203" y="0" width="1" height="24" fill="#a0a0a0"/><rect x="204" y="0" width="1" height="24" fill="#fff"/>
<rect x="207" y="2" width="3" height="1" fill="#a8a8a8"/>
<rect x="207" y="4" width="3" height="1" fill="#a8a8a8"/>
<rect x="207" y="6" width="3" height="1" fill="#a8a8a8"/>
<rect x="207" y="8" width="3" height="1" fill="#a8a8a8"/>
<rect x="207" y="10" width="3" height="1" fill="#a8a8a8"/>
<rect x="207" y="12" width="3" height="1" fill="#a8a8a8"/>
<rect x="207" y="14" width="3" height="1" fill="#a8a8a8"/>
<rect x="207" y="16" width="3" height="1" fill="#a8a8a8"/>
<rect x="207" y="18" width="3" height="1" fill="#a8a8a8"/>
<rect x="207" y="20" width="3" height="1" fill="#a8a8a8"/>
<rect x="221" y="7" width="1" height="13" fill="#505050"/>
<rect x="220" y="7" width="3" height="1" fill="#505050"/>
<rect x="221" y="6" width="1" height="1" fill="#505050"/>
<rect x="219" y="17" width="13" height="1" fill="#505050"/>
<rect x="231" y="16" width="1" height="3" fill="#505050"/>
<rect x="232" y="17" width="1" height="1" fill="#505050"/>
<path d="M227.500 7.500 V15.500 M225 14.500 H227.500 M227.500 8.500 H230.500" stroke="#008000" stroke-width="1.600" fill="none" shape-rendering="auto"/>
<rect x="241" y="0" width="25" height="22" fill="#f8f8f8"/>
<rect x="241" y="0" width="25" height="1" fill="#a0a0a0"/>
<rect x="241" y="0" width="1" height="22" fill="#a0a0a0"/>
<rect x="266" y="0" width="1" height="22" fill="#ffffff"/>
<rect x="249" y="7" width="1" height="13" fill="#505050"/>
<rect x="248" y="7" width="3" height="1" fill="#505050"/>
<rect x="249" y="6" width="1" height="1" fill="#505050"/>
<rect x="247" y="17" width="13" height="1" fill="#505050"/>
<rect x="259" y="16" width="1" height="3" fill="#505050"/>
<rect x="260" y="17" width="1" height="1" fill="#505050"/>
<rect x="255" y="4" width="1.500" height="12" fill="#008000" shape-rendering="auto"/>
<rect x="253.500" y="6.500" width="4" height="7" fill="#48e848" stroke="#008800" stroke-width="1"/>
<rect x="277" y="7" width="1" height="13" fill="#505050"/>
<rect x="276" y="7" width="3" height="1" fill="#505050"/>
<rect x="277" y="6" width="1" height="1" fill="#505050"/>
<rect x="275" y="17" width="13" height="1" fill="#505050"/>
<rect x="287" y="16" width="1" height="3" fill="#505050"/>
<rect x="288" y="17" width="1" height="1" fill="#505050"/>
<path d="M276 14.500 C279 12 281 8.500 283 9.200 C285 10 286 12.500 288 13" stroke="#30a030" stroke-width="1.600" fill="none" shape-rendering="auto"/>
<rect x="298" y="1" width="1" height="21" fill="#a0a0a0"/>
<rect x="299" y="1" width="1" height="21" fill="#ffffff"/>
<path d="M316.8 14.500 L321.3 19" stroke="#a87808" stroke-width="3.400" stroke-linecap="round" shape-rendering="auto"/>
<path d="M317.0 14.700 L321.1 18.800" stroke="#f4d830" stroke-width="2" stroke-linecap="round" shape-rendering="auto"/>
<circle cx="312.8" cy="9.700" r="5.500" fill="#d0eefa" stroke="#3c80c8" stroke-width="1.300" shape-rendering="auto"/>
<rect x="309.6" y="8.800" width="6.400" height="1.900" fill="#3c88b4" shape-rendering="auto"/>
<rect x="311.85" y="6.500" width="1.900" height="6.400" fill="#3c88b4" shape-rendering="auto"/>
<path d="M345 14.500 L349.5 19" stroke="#a87808" stroke-width="3.400" stroke-linecap="round" shape-rendering="auto"/>
<path d="M345.2 14.700 L349.3 18.800" stroke="#f4d830" stroke-width="2" stroke-linecap="round" shape-rendering="auto"/>
<circle cx="341" cy="9.700" r="5.500" fill="#d0eefa" stroke="#3c80c8" stroke-width="1.300" shape-rendering="auto"/>
<rect x="337.8" y="8.800" width="6.400" height="1.900" fill="#3c88b4" shape-rendering="auto"/>
<rect x="363" y="4" width="8" height="8" fill="#38a020"/>
<rect x="364" y="7" width="6" height="4" fill="#ffffff"/>
<rect x="365" y="8" width="4" height="1" fill="#b0e0a0"/>
<rect x="365" y="10" width="4" height="1" fill="#38a020"/>
<rect x="364" y="5" width="1" height="1" fill="#ffffff"/>
<rect x="371" y="4" width="8" height="8" fill="#2050c8"/>
<rect x="372" y="7" width="6" height="4" fill="#ffffff"/>
<rect x="373" y="8" width="4" height="1" fill="#a8c0f0"/>
<rect x="373" y="10" width="4" height="1" fill="#2050c8"/>
<rect x="372" y="5" width="1" height="1" fill="#ffffff"/>
<rect x="363" y="12" width="8" height="8" fill="#2050c8"/>
<rect x="364" y="15" width="6" height="4" fill="#ffffff"/>
<rect x="365" y="16" width="4" height="1" fill="#a8c0f0"/>
<rect x="365" y="18" width="4" height="1" fill="#2050c8"/>
<rect x="364" y="13" width="1" height="1" fill="#ffffff"/>
<rect x="371" y="12" width="8" height="8" fill="#38a020"/>
<rect x="372" y="15" width="6" height="4" fill="#ffffff"/>
<rect x="373" y="16" width="4" height="1" fill="#b0e0a0"/>
<rect x="373" y="18" width="4" height="1" fill="#38a020"/>
<rect x="372" y="13" width="1" height="1" fill="#ffffff"/>
<rect x="389" y="1" width="1" height="21" fill="#a0a0a0"/>
<rect x="390" y="1" width="1" height="21" fill="#ffffff"/>
<rect x="393" y="0" width="25" height="22" fill="#f8f8f8"/>
<rect x="393" y="0" width="25" height="1" fill="#a0a0a0"/>
<rect x="393" y="0" width="1" height="22" fill="#a0a0a0"/>
<rect x="418" y="0" width="1" height="22" fill="#ffffff"/>
<rect x="401" y="7" width="1" height="13" fill="#505050"/>
<rect x="400" y="7" width="3" height="1" fill="#505050"/>
<rect x="401" y="6" width="1" height="1" fill="#505050"/>
<rect x="399" y="17" width="13" height="1" fill="#505050"/>
<rect x="411" y="16" width="1" height="3" fill="#505050"/>
<rect x="412" y="17" width="1" height="1" fill="#505050"/>
<polygon points="406.300,8 406.300,15 410.500,11.500" fill="#50e060" stroke="#10a020" stroke-width="1" shape-rendering="auto"/>
<rect x="421" y="0" width="25" height="22" fill="#f8f8f8"/>
<rect x="421" y="0" width="25" height="1" fill="#a0a0a0"/>
<rect x="421" y="0" width="1" height="22" fill="#a0a0a0"/>
<rect x="446" y="0" width="1" height="22" fill="#ffffff"/>
<rect x="429" y="7" width="1" height="13" fill="#505050"/>
<rect x="428" y="7" width="3" height="1" fill="#505050"/>
<rect x="429" y="6" width="1" height="1" fill="#505050"/>
<rect x="427" y="17" width="13" height="1" fill="#505050"/>
<rect x="439" y="16" width="1" height="3" fill="#505050"/>
<rect x="440" y="17" width="1" height="1" fill="#505050"/>
<rect x="435" y="6" width="1.500" height="10" fill="#1870a8" shape-rendering="auto"/>
<path d="M441 11.500 H437" stroke="#c04000" stroke-width="1" fill="none"/>
<polygon points="436.500,11.500 439.500,9 439,11.500 439.500,14" fill="#e05808" stroke="#a03800" stroke-width="0.500" shape-rendering="auto"/>
<rect x="450" y="1" width="1" height="21" fill="#a0a0a0"/>
<rect x="451" y="1" width="1" height="21" fill="#ffffff"/>
<path d="M460.500 5.500 H467 L470.500 9 V17.500 H460.500 z" fill="#fafafa" stroke="#606060"/>
<path d="M463 9 c1 4 2 -4 3 2" stroke="#606060" fill="none"/>
<path d="M468.200 10.500 h3.600 v3.700 h3.900 v3.600 h-3.900 v3.700 h-3.600 v-3.700 h-3.900 v-3.600 h3.900 z" fill="#38e038" stroke="#108818" stroke-width="0.900" shape-rendering="auto"/>
<polygon points="481,11 487,11 484,14" fill="#000"/>
<circle cx="505.500" cy="12" r="7.500" fill="#3070d0" stroke="#2050a0"/>
<circle cx="505.500" cy="12" r="5.500" fill="#f0f6ff"/>
<path d="M505.500 8 V12.500 H509" stroke="#404040" fill="none"/>
<polygon points="520,11 526,11 523,14" fill="#000"/>
<rect x="537.500" y="5.500" width="15" height="13" fill="#fafcff" stroke="#3068c0"/>
<rect x="537" y="5" width="16" height="3" fill="#3068c0"/>
<rect x="538" y="13" width="15" height="1" fill="#3068c0"/>
<path d="M539.500 11.500 l3 -1.500 l2 1 l2.500 -1.500 l2 1 l2 -1" stroke="#a02810" stroke-width="1.200" fill="none" shape-rendering="auto"/>
<path d="M539.500 16.500 l3 -1 l2 1 l2.500 -2 l2 0.500 l2 1.500" stroke="#109020" stroke-width="1.200" fill="none" shape-rendering="auto"/>
<polygon points="559,11 565,11 562,14" fill="#000"/>
<rect x="571" y="0" width="1" height="24" fill="#a0a0a0"/><rect x="572" y="0" width="1" height="24" fill="#fff"/>
<rect x="575" y="2" width="3" height="1" fill="#a8a8a8"/>
<rect x="575" y="4" width="3" height="1" fill="#a8a8a8"/>
<rect x="575" y="6" width="3" height="1" fill="#a8a8a8"/>
<rect x="575" y="8" width="3" height="1" fill="#a8a8a8"/>
<rect x="575" y="10" width="3" height="1" fill="#a8a8a8"/>
<rect x="575" y="12" width="3" height="1" fill="#a8a8a8"/>
<rect x="575" y="14" width="3" height="1" fill="#a8a8a8"/>
<rect x="575" y="16" width="3" height="1" fill="#a8a8a8"/>
<rect x="575" y="18" width="3" height="1" fill="#a8a8a8"/>
<rect x="575" y="20" width="3" height="1" fill="#a8a8a8"/>
<rect x="581" y="0" width="25" height="22" fill="#f8f8f8"/>
<rect x="581" y="0" width="25" height="1" fill="#a0a0a0"/>
<rect x="581" y="0" width="1" height="22" fill="#a0a0a0"/>
<rect x="606" y="0" width="1" height="22" fill="#ffffff"/>
<polygon points="589,5 589,17 592,14.500 594,19 596,18 594,13.500 598,13.500" fill="#484848"/>
<path d="M621.500 5 V19 M614 12.500 H629" stroke="#404040" fill="none"/>
<rect x="620" y="11" width="3" height="3" fill="#f0f0f0"/>
<rect x="621" y="12" width="1" height="1" fill="#404040"/>
<rect x="638" y="1" width="1" height="21" fill="#a0a0a0"/>
<rect x="639" y="1" width="1" height="21" fill="#ffffff"/>
<rect x="655" y="6" width="1" height="13" fill="#404040"/>
<rect x="678" y="12" width="12" height="1" fill="#404040"/>
<path d="M706 18.500 L718 7" stroke="#404040" fill="none" shape-rendering="auto"/>
<path d="M731.500 14 L744.500 5.500 M734 18 L746.500 10.500 M735.500 9.500 L737 17.500 M739.500 7.500 L741 15 M743 4.500 L744.500 12.500" stroke="#505050" stroke-width="1.250" fill="none" shape-rendering="auto"/>
<text x="743" y="20.5" font-size="6.5" fill="#303030" font-weight="bold">E</text>
<line x1="761" y1="5.5" x2="774.5" y2="5.5" stroke="#606060" stroke-dasharray="1 1"/>
<line x1="761" y1="8.5" x2="774.5" y2="8.5" stroke="#606060" stroke-dasharray="1 1"/>
<line x1="761" y1="12.5" x2="774.5" y2="12.5" stroke="#606060" stroke-dasharray="1 1"/>
<line x1="761" y1="16.5" x2="769.5" y2="16.5" stroke="#606060" stroke-dasharray="1 1"/>
<text x="770.8" y="20.5" font-size="6.5" fill="#303030" font-weight="bold">F</text>
<text x="791.5" y="17" font-size="12" fill="#505050" stroke="#505050" stroke-width="0.400">A</text>
<line x1="818" y1="6.5" x2="831" y2="6.5" stroke="#606060" stroke-dasharray="1 1"/>
<line x1="818" y1="18.5" x2="831" y2="18.5" stroke="#606060" stroke-dasharray="1 1"/>
<line x1="818.5" y1="6" x2="818.5" y2="19" stroke="#606060" stroke-dasharray="1 1"/>
<line x1="830.5" y1="6" x2="830.5" y2="19" stroke="#606060" stroke-dasharray="1 1"/>
<path d="M820 9.700 H828.500 M824.250 9.700 V17" stroke="#585858" stroke-width="1.600" fill="none" shape-rendering="auto"/>
<path d="M845 8.300 l3.500 -2.600 l3.500 2.600 l-3.500 2.300 z M852 16.300 l3.700 -2.500 l3.700 2.500 l-3.700 2.700 z" fill="#484848" shape-rendering="auto"/>
<path d="M847 13.500 l2.300 2 l4.700 -5.200" stroke="#484848" stroke-width="1.300" fill="none" shape-rendering="auto"/>
<polygon points="865,11 871,11 868,14" fill="#000"/>
<rect x="877" y="0" width="1" height="24" fill="#a0a0a0"/><rect x="878" y="0" width="1" height="24" fill="#fff"/>
<rect x="881" y="2" width="3" height="1" fill="#a8a8a8"/>
<rect x="881" y="4" width="3" height="1" fill="#a8a8a8"/>
<rect x="881" y="6" width="3" height="1" fill="#a8a8a8"/>
<rect x="881" y="8" width="3" height="1" fill="#a8a8a8"/>
<rect x="881" y="10" width="3" height="1" fill="#a8a8a8"/>
<rect x="881" y="12" width="3" height="1" fill="#a8a8a8"/>
<rect x="881" y="14" width="3" height="1" fill="#a8a8a8"/>
<rect x="881" y="16" width="3" height="1" fill="#a8a8a8"/>
<rect x="881" y="18" width="3" height="1" fill="#a8a8a8"/>
<rect x="881" y="20" width="3" height="1" fill="#a8a8a8"/>
<text x="892.5" y="16" font-size="9.5" fill="#404040" textLength="12.5" lengthAdjust="spacingAndGlyphs">M1</text>
<text x="920.5" y="16" font-size="9.5" fill="#404040" textLength="12.5" lengthAdjust="spacingAndGlyphs">M5</text>
<text x="946.5" y="16" font-size="9.5" fill="#404040" textLength="17.5" lengthAdjust="spacingAndGlyphs">M15</text>
<text x="974.5" y="16" font-size="9.5" fill="#404040" textLength="18" lengthAdjust="spacingAndGlyphs">M30</text>
<text x="1005.5" y="16" font-size="9.5" fill="#404040" textLength="11.5" lengthAdjust="spacingAndGlyphs">H1</text>
<text x="1033" y="16" font-size="9.5" fill="#404040" textLength="12.5" lengthAdjust="spacingAndGlyphs">H4</text>
<text x="1089" y="16" font-size="9.5" fill="#404040" textLength="14" lengthAdjust="spacingAndGlyphs">W1</text>
<text x="1116" y="16" font-size="9.5" fill="#404040" textLength="14.5" lengthAdjust="spacingAndGlyphs">MN</text>
<rect x="1055" y="0" width="25" height="22" fill="#f8f8f8"/>
<rect x="1055" y="0" width="25" height="1" fill="#a0a0a0"/>
<rect x="1055" y="0" width="1" height="22" fill="#a0a0a0"/>
<rect x="1080" y="0" width="1" height="22" fill="#ffffff"/>
<text x="1062" y="16" font-size="9.5" fill="#404040" textLength="11" lengthAdjust="spacingAndGlyphs">D1</text>
<rect x="1138" y="0" width="1" height="24" fill="#a0a0a0"/><rect x="1139" y="0" width="1" height="24" fill="#fff"/>
<path d="M1601.200 16.600 L1605.300 12.500" stroke="#1848d0" stroke-width="2.600" stroke-linecap="round" shape-rendering="auto"/>
<circle cx="1608.500" cy="9.300" r="3.700" fill="#f2f2ff" stroke="#2858e0" stroke-width="1.300" shape-rendering="auto"/>
<defs><linearGradient id="bb" x1="0" y1="0" x2="0" y2="1"><stop offset="0" stop-color="#ffffff"/><stop offset="1" stop-color="#dcdce6"/></linearGradient></defs>
<path d="M1643 13 l1.700 2.800 l-3.200 -2.300" fill="#e8e8f0" stroke="#707070" stroke-width="0.900" shape-rendering="auto"/>
<ellipse cx="1641" cy="8.800" rx="6.500" ry="4.500" fill="url(#bb)" stroke="#888888" stroke-width="0.900" shape-rendering="auto"/>
<path d="M1630.300 16 l-1 2.700 l3.200 -2" fill="#e8e8f0" stroke="#707070" stroke-width="0.900" shape-rendering="auto"/>
<ellipse cx="1632.300" cy="13" rx="5" ry="3.700" fill="url(#bb)" stroke="#888888" stroke-width="0.900" shape-rendering="auto"/></svg>

</body></html>
